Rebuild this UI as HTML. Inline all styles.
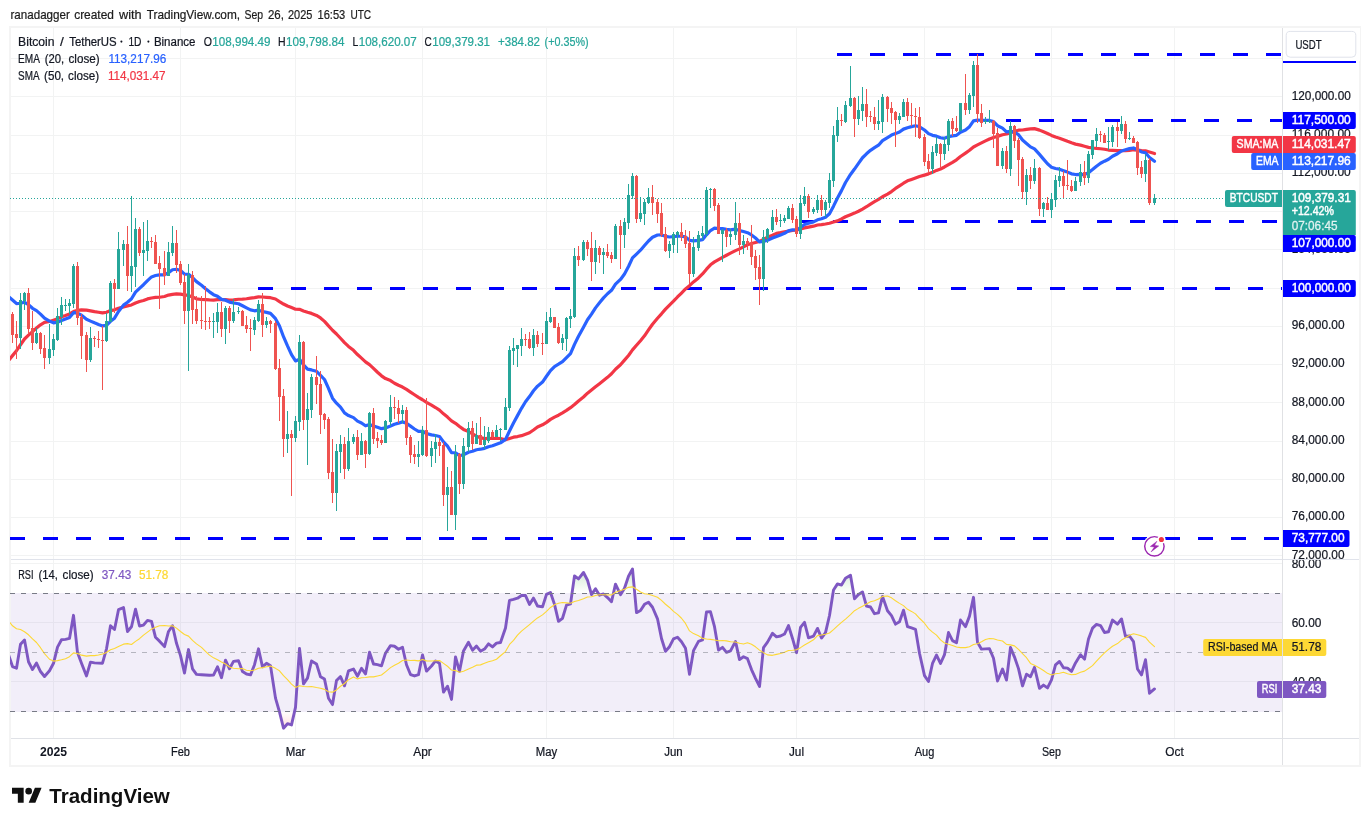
<!DOCTYPE html>
<html><head><meta charset="utf-8"><title>BTCUSDT chart</title>
<style>html,body{margin:0;padding:0;background:#fff;}body{width:1370px;height:826px;overflow:hidden;font-family:"Liberation Sans",sans-serif;}</style></head>
<body>
<svg width="1370" height="826" viewBox="0 0 1370 826" style="display:block;will-change:transform">
<rect width="1370" height="826" fill="#fff"/>
<clipPath id="cm"><rect x="10" y="28" width="1272" height="531"/></clipPath>
<clipPath id="cr"><rect x="10" y="560" width="1272" height="178"/></clipPath>
<g shape-rendering="crispEdges">
<rect x="53" y="28" width="1" height="531" fill="#f2f3f3"/>
<rect x="53" y="560" width="1" height="178" fill="#f2f3f3"/>
<rect x="180" y="28" width="1" height="531" fill="#f2f3f3"/>
<rect x="180" y="560" width="1" height="178" fill="#f2f3f3"/>
<rect x="295" y="28" width="1" height="531" fill="#f2f3f3"/>
<rect x="295" y="560" width="1" height="178" fill="#f2f3f3"/>
<rect x="422" y="28" width="1" height="531" fill="#f2f3f3"/>
<rect x="422" y="560" width="1" height="178" fill="#f2f3f3"/>
<rect x="546" y="28" width="1" height="531" fill="#f2f3f3"/>
<rect x="546" y="560" width="1" height="178" fill="#f2f3f3"/>
<rect x="673" y="28" width="1" height="531" fill="#f2f3f3"/>
<rect x="673" y="560" width="1" height="178" fill="#f2f3f3"/>
<rect x="796" y="28" width="1" height="531" fill="#f2f3f3"/>
<rect x="796" y="560" width="1" height="178" fill="#f2f3f3"/>
<rect x="924" y="28" width="1" height="531" fill="#f2f3f3"/>
<rect x="924" y="560" width="1" height="178" fill="#f2f3f3"/>
<rect x="1051" y="28" width="1" height="531" fill="#f2f3f3"/>
<rect x="1051" y="560" width="1" height="178" fill="#f2f3f3"/>
<rect x="1174" y="28" width="1" height="531" fill="#f2f3f3"/>
<rect x="1174" y="560" width="1" height="178" fill="#f2f3f3"/>
<rect x="11" y="555" width="1271" height="1" fill="#f2f3f3"/>
<rect x="11" y="517" width="1271" height="1" fill="#f2f3f3"/>
<rect x="11" y="479" width="1271" height="1" fill="#f2f3f3"/>
<rect x="11" y="441" width="1271" height="1" fill="#f2f3f3"/>
<rect x="11" y="402" width="1271" height="1" fill="#f2f3f3"/>
<rect x="11" y="364" width="1271" height="1" fill="#f2f3f3"/>
<rect x="11" y="326" width="1271" height="1" fill="#f2f3f3"/>
<rect x="11" y="288" width="1271" height="1" fill="#f2f3f3"/>
<rect x="11" y="249" width="1271" height="1" fill="#f2f3f3"/>
<rect x="11" y="211" width="1271" height="1" fill="#f2f3f3"/>
<rect x="11" y="173" width="1271" height="1" fill="#f2f3f3"/>
<rect x="11" y="135" width="1271" height="1" fill="#f2f3f3"/>
<rect x="11" y="96" width="1271" height="1" fill="#f2f3f3"/>
<rect x="11" y="58" width="1271" height="1" fill="#f2f3f3"/>
</g>
<g shape-rendering="crispEdges">
<rect x="11" y="563" width="1271" height="1" fill="#f2f3f3"/>
<rect x="11" y="622" width="1271" height="1" fill="#f2f3f3"/>
<rect x="11" y="681" width="1271" height="1" fill="#f2f3f3"/>
</g>
<rect x="11" y="593" width="1271" height="119" fill="#7e57c2" fill-opacity="0.1"/>
<g shape-rendering="crispEdges">
<rect x="9" y="26" width="1352" height="2" fill="#f4f4f4"/>
<rect x="9" y="765" width="1352" height="2" fill="#f4f4f4"/>
<rect x="9" y="26" width="2" height="741" fill="#f4f4f4"/>
<rect x="1359" y="26" width="2" height="741" fill="#f4f4f4"/>
<rect x="11" y="559" width="1348" height="1" fill="#e0e3eb"/>
<rect x="11" y="738" width="1348" height="1" fill="#e0e2e7"/>
<rect x="1282" y="28" width="1" height="737" fill="#e0e1e4"/>
</g>
<line x1="837" x2="1282" y1="54.5" y2="54.5" stroke="#0000ff" stroke-width="3" stroke-dasharray="15,18" shape-rendering="crispEdges" clip-path="url(#cm)"/>
<line x1="1006" x2="1282" y1="120.5" y2="120.5" stroke="#0000ff" stroke-width="3" stroke-dasharray="15,18" shape-rendering="crispEdges" clip-path="url(#cm)"/>
<line x1="800" x2="1282" y1="221.5" y2="221.5" stroke="#0000ff" stroke-width="3" stroke-dasharray="15,18" shape-rendering="crispEdges" clip-path="url(#cm)"/>
<line x1="258" x2="1282" y1="288.5" y2="288.5" stroke="#0000ff" stroke-width="3" stroke-dasharray="15,18" shape-rendering="crispEdges" clip-path="url(#cm)"/>
<line x1="10" x2="1282" y1="538.5" y2="538.5" stroke="#0000ff" stroke-width="3" stroke-dasharray="15,18" shape-rendering="crispEdges" clip-path="url(#cm)"/>
<g clip-path="url(#cm)">
<polyline points="8.5,360.56 12.5,355.63 16.5,350.64 20.5,344.74 24.5,339.00 28.5,335.13 32.5,331.60 36.5,328.01 40.5,324.75 44.5,322.37 49.5,321.43 53.5,320.16 57.5,318.90 61.5,316.83 65.5,315.45 69.5,313.96 73.5,311.60 77.5,310.36 81.5,309.83 86.5,310.16 90.5,310.85 94.5,311.67 98.5,312.27 102.5,312.91 106.5,312.23 110.5,310.60 114.5,309.81 118.5,308.20 123.5,306.84 127.5,305.90 131.5,304.93 135.5,302.96 139.5,301.46 143.5,300.44 147.5,298.93 151.5,297.97 155.5,297.43 159.5,297.25 164.5,296.47 168.5,295.11 172.5,294.42 176.5,293.96 180.5,294.11 184.5,294.82 188.5,295.42 192.5,297.00 196.5,298.82 201.5,299.52 205.5,299.70 209.5,299.96 213.5,300.12 217.5,299.69 221.5,299.52 225.5,299.67 229.5,300.21 233.5,299.89 238.5,299.26 242.5,299.11 246.5,298.72 250.5,298.16 254.5,297.58 258.5,296.87 262.5,297.02 266.5,297.33 270.5,297.71 275.5,299.01 279.5,301.60 283.5,304.03 287.5,306.01 291.5,307.58 295.5,309.23 299.5,309.30 303.5,310.89 307.5,312.28 311.5,313.41 316.5,315.43 320.5,317.96 324.5,321.37 328.5,325.92 332.5,330.27 336.5,333.97 340.5,338.26 344.5,342.58 348.5,346.39 353.5,350.32 357.5,354.56 361.5,358.11 365.5,361.82 369.5,364.59 373.5,368.32 377.5,372.26 381.5,375.82 385.5,378.60 390.5,380.55 394.5,383.22 398.5,385.29 402.5,387.08 406.5,389.40 410.5,392.05 414.5,394.74 418.5,397.40 422.5,399.75 426.5,402.28 431.5,405.08 435.5,407.52 439.5,410.19 443.5,413.85 447.5,417.09 451.5,420.81 455.5,423.30 459.5,426.56 463.5,429.41 468.5,431.49 472.5,433.94 476.5,436.17 480.5,437.68 484.5,438.57 488.5,438.44 492.5,438.48 496.5,438.34 500.5,438.51 505.5,439.80 509.5,438.42 513.5,437.20 517.5,436.55 521.5,435.65 525.5,434.15 529.5,432.72 533.5,429.99 537.5,426.99 542.5,424.84 546.5,422.39 550.5,419.38 554.5,417.11 558.5,415.21 562.5,412.88 566.5,410.43 570.5,407.69 574.5,404.55 578.5,400.97 583.5,397.01 587.5,393.13 591.5,389.94 595.5,386.76 599.5,383.68 603.5,380.46 607.5,377.35 611.5,373.78 615.5,369.23 620.5,364.79 624.5,360.15 628.5,355.47 632.5,349.89 636.5,345.28 640.5,340.71 644.5,335.84 648.5,329.92 652.5,324.22 657.5,318.21 661.5,313.82 665.5,309.16 669.5,305.11 673.5,301.21 677.5,296.99 681.5,293.01 685.5,288.99 689.5,285.65 693.5,281.95 698.5,277.92 702.5,273.97 706.5,269.17 710.5,264.82 714.5,261.92 718.5,259.63 722.5,257.31 726.5,255.25 730.5,253.16 735.5,250.66 739.5,248.84 743.5,246.81 747.5,244.80 751.5,243.50 755.5,242.50 759.5,241.52 763.5,239.41 767.5,237.24 772.5,235.23 776.5,233.33 780.5,232.61 784.5,231.78 788.5,231.10 792.5,230.53 796.5,229.97 800.5,229.07 804.5,227.90 808.5,227.10 813.5,226.19 817.5,225.03 821.5,224.68 825.5,224.04 829.5,223.21 833.5,221.99 837.5,220.87 841.5,218.94 845.5,216.78 850.5,214.70 854.5,213.11 858.5,211.26 862.5,209.08 866.5,206.72 870.5,204.07 874.5,201.65 878.5,199.41 882.5,196.71 887.5,194.15 891.5,191.54 895.5,188.46 899.5,185.86 903.5,183.21 907.5,180.85 911.5,179.38 915.5,177.93 919.5,176.57 924.5,175.11 928.5,173.88 932.5,172.19 936.5,170.39 940.5,168.98 944.5,166.99 948.5,164.58 952.5,162.28 956.5,159.77 960.5,156.48 965.5,153.09 969.5,150.26 973.5,146.97 977.5,144.88 981.5,142.89 985.5,140.91 989.5,138.98 993.5,137.47 997.5,136.38 1002.5,134.74 1006.5,134.04 1010.5,132.63 1014.5,131.21 1018.5,130.20 1022.5,130.02 1026.5,129.35 1030.5,128.91 1034.5,128.65 1039.5,130.11 1043.5,131.78 1047.5,133.53 1051.5,135.41 1055.5,137.06 1059.5,138.21 1063.5,139.73 1067.5,141.35 1071.5,142.83 1075.5,144.11 1080.5,145.11 1084.5,146.22 1088.5,147.37 1092.5,148.00 1096.5,148.44 1100.5,148.76 1104.5,149.27 1108.5,150.05 1112.5,150.29 1117.5,150.58 1121.5,150.72 1125.5,150.75 1129.5,150.29 1133.5,149.78 1137.5,150.08 1141.5,150.66 1145.5,150.82 1149.5,151.97 1154.5,153.51" fill="none" stroke="#f23645" stroke-width="3.2" stroke-linejoin="round" stroke-linecap="round" />
<polyline points="8.5,296.53 12.5,300.07 16.5,303.54 20.5,303.25 24.5,302.28 28.5,304.72 32.5,308.29 36.5,310.60 40.5,314.12 44.5,318.16 49.5,321.10 53.5,322.84 57.5,322.23 61.5,320.60 65.5,319.09 69.5,317.58 73.5,312.70 77.5,313.08 81.5,315.16 86.5,319.32 90.5,321.11 94.5,322.84 98.5,324.45 102.5,325.92 106.5,325.41 110.5,321.36 114.5,318.16 118.5,311.54 123.5,305.12 127.5,302.25 131.5,298.80 135.5,292.14 139.5,288.34 143.5,284.71 147.5,280.56 151.5,276.91 155.5,275.55 159.5,274.81 164.5,274.82 168.5,272.64 172.5,269.77 176.5,269.26 180.5,270.43 184.5,274.17 188.5,274.24 192.5,277.56 196.5,281.60 201.5,285.32 205.5,288.72 209.5,291.86 213.5,294.68 217.5,296.35 221.5,299.36 225.5,300.19 229.5,302.08 233.5,302.98 238.5,303.74 242.5,305.74 246.5,307.86 250.5,309.88 254.5,310.81 258.5,310.15 262.5,311.49 266.5,312.36 270.5,313.41 275.5,318.65 279.5,326.00 283.5,336.69 287.5,345.94 291.5,354.64 295.5,360.95 299.5,359.19 303.5,364.92 307.5,369.14 311.5,369.93 316.5,371.26 320.5,375.32 324.5,379.51 328.5,388.31 332.5,398.21 336.5,403.22 340.5,407.07 344.5,412.89 348.5,415.55 353.5,417.63 357.5,421.11 361.5,422.96 365.5,425.81 369.5,424.63 373.5,425.95 377.5,427.27 381.5,428.68 385.5,427.92 390.5,425.95 394.5,424.25 398.5,423.16 402.5,421.88 406.5,423.28 410.5,426.16 414.5,429.00 418.5,431.43 422.5,431.25 426.5,433.49 431.5,434.89 435.5,435.53 439.5,436.44 443.5,441.91 447.5,446.19 451.5,452.65 455.5,452.76 459.5,455.60 463.5,454.70 468.5,452.20 472.5,451.31 476.5,449.75 480.5,449.21 484.5,448.36 488.5,446.76 492.5,445.74 496.5,444.28 500.5,442.85 505.5,439.44 509.5,430.95 513.5,423.05 517.5,415.63 521.5,408.33 525.5,401.73 529.5,396.55 533.5,390.72 537.5,386.14 542.5,382.06 546.5,376.27 550.5,370.66 554.5,366.53 558.5,364.23 562.5,361.73 566.5,357.56 570.5,353.60 574.5,344.35 578.5,336.25 583.5,327.24 587.5,319.72 591.5,314.13 595.5,307.87 599.5,302.75 603.5,297.89 607.5,293.76 611.5,290.33 615.5,284.20 620.5,279.45 624.5,274.00 628.5,266.52 632.5,257.88 636.5,254.05 640.5,250.19 644.5,245.56 648.5,240.98 652.5,237.28 657.5,235.00 661.5,234.92 665.5,236.32 669.5,237.02 673.5,236.71 677.5,236.23 681.5,236.23 685.5,236.85 689.5,240.32 693.5,240.92 698.5,240.32 702.5,239.60 706.5,234.84 710.5,230.51 714.5,228.08 718.5,228.59 722.5,228.69 726.5,229.38 730.5,229.84 735.5,229.16 739.5,230.58 743.5,231.57 747.5,232.67 751.5,234.90 755.5,238.00 759.5,241.85 763.5,241.36 767.5,240.23 772.5,238.06 776.5,236.46 780.5,234.92 784.5,233.30 788.5,230.86 792.5,229.77 796.5,230.11 800.5,227.53 804.5,224.53 808.5,223.27 813.5,221.94 817.5,219.82 821.5,218.76 825.5,217.19 829.5,213.68 833.5,206.15 837.5,197.95 841.5,190.63 845.5,182.49 850.5,174.44 854.5,169.06 858.5,163.39 862.5,157.76 866.5,153.81 870.5,150.32 874.5,147.68 878.5,145.18 882.5,140.59 887.5,137.52 891.5,135.12 895.5,133.61 899.5,131.96 903.5,129.11 907.5,127.77 911.5,126.65 915.5,125.74 919.5,126.81 924.5,130.02 928.5,133.61 932.5,135.34 936.5,136.14 940.5,137.71 944.5,138.34 948.5,136.65 952.5,135.85 956.5,135.32 960.5,132.26 965.5,130.05 969.5,126.72 973.5,120.83 977.5,120.06 981.5,120.23 985.5,120.35 989.5,120.44 993.5,121.59 997.5,125.69 1002.5,128.12 1006.5,131.93 1010.5,131.34 1014.5,132.17 1018.5,134.69 1022.5,140.06 1026.5,143.40 1030.5,146.89 1034.5,148.85 1039.5,154.44 1043.5,159.10 1047.5,163.84 1051.5,167.22 1055.5,168.46 1059.5,169.15 1063.5,170.67 1067.5,172.10 1071.5,173.83 1075.5,174.53 1080.5,174.32 1084.5,174.60 1088.5,172.66 1092.5,169.51 1096.5,166.17 1100.5,163.25 1104.5,161.19 1108.5,159.26 1112.5,156.20 1117.5,153.75 1121.5,150.96 1125.5,149.74 1129.5,148.60 1133.5,147.97 1137.5,149.76 1141.5,151.96 1145.5,152.77 1149.5,157.43 1154.5,161.29" fill="none" stroke="#2962ff" stroke-width="3.2" stroke-linejoin="round" stroke-linecap="round" />
</g>
<g shape-rendering="crispEdges">
<rect x="12" y="312" width="1" height="31" fill="#ef5350"/>
<rect x="11" y="314" width="3" height="21" fill="#ef5350"/>
<rect x="16" y="321" width="1" height="38" fill="#ef5350"/>
<rect x="15" y="334" width="3" height="4" fill="#ef5350"/>
<rect x="20" y="293" width="1" height="56" fill="#26a69a"/>
<rect x="19" y="300" width="3" height="38" fill="#26a69a"/>
<rect x="24" y="292" width="1" height="18" fill="#26a69a"/>
<rect x="23" y="293" width="3" height="8" fill="#26a69a"/>
<rect x="28" y="288" width="1" height="46" fill="#ef5350"/>
<rect x="27" y="293" width="3" height="36" fill="#ef5350"/>
<rect x="32" y="311" width="1" height="39" fill="#ef5350"/>
<rect x="31" y="328" width="3" height="15" fill="#ef5350"/>
<rect x="36" y="328" width="1" height="16" fill="#26a69a"/>
<rect x="35" y="333" width="3" height="10" fill="#26a69a"/>
<rect x="40" y="332" width="1" height="22" fill="#ef5350"/>
<rect x="39" y="333" width="3" height="16" fill="#ef5350"/>
<rect x="44" y="335" width="1" height="34" fill="#ef5350"/>
<rect x="43" y="348" width="3" height="10" fill="#ef5350"/>
<rect x="49" y="324" width="1" height="40" fill="#26a69a"/>
<rect x="48" y="349" width="3" height="9" fill="#26a69a"/>
<rect x="53" y="334" width="1" height="22" fill="#26a69a"/>
<rect x="52" y="339" width="3" height="11" fill="#26a69a"/>
<rect x="57" y="308" width="1" height="33" fill="#26a69a"/>
<rect x="56" y="316" width="3" height="24" fill="#26a69a"/>
<rect x="61" y="297" width="1" height="28" fill="#26a69a"/>
<rect x="60" y="305" width="3" height="12" fill="#26a69a"/>
<rect x="65" y="299" width="1" height="12" fill="#26a69a"/>
<rect x="64" y="305" width="3" height="1" fill="#26a69a"/>
<rect x="69" y="299" width="1" height="15" fill="#26a69a"/>
<rect x="68" y="303" width="3" height="3" fill="#26a69a"/>
<rect x="73" y="264" width="1" height="44" fill="#26a69a"/>
<rect x="72" y="266" width="3" height="38" fill="#26a69a"/>
<rect x="77" y="262" width="1" height="63" fill="#ef5350"/>
<rect x="76" y="266" width="3" height="52" fill="#ef5350"/>
<rect x="81" y="314" width="1" height="45" fill="#ef5350"/>
<rect x="80" y="317" width="3" height="19" fill="#ef5350"/>
<rect x="86" y="332" width="1" height="40" fill="#ef5350"/>
<rect x="85" y="335" width="3" height="25" fill="#ef5350"/>
<rect x="90" y="327" width="1" height="35" fill="#26a69a"/>
<rect x="89" y="338" width="3" height="22" fill="#26a69a"/>
<rect x="94" y="336" width="1" height="11" fill="#ef5350"/>
<rect x="93" y="338" width="3" height="1" fill="#ef5350"/>
<rect x="98" y="331" width="1" height="17" fill="#ef5350"/>
<rect x="97" y="339" width="3" height="1" fill="#ef5350"/>
<rect x="102" y="326" width="1" height="64" fill="#ef5350"/>
<rect x="101" y="340" width="3" height="1" fill="#ef5350"/>
<rect x="106" y="313" width="1" height="29" fill="#26a69a"/>
<rect x="105" y="321" width="3" height="20" fill="#26a69a"/>
<rect x="110" y="281" width="1" height="40" fill="#26a69a"/>
<rect x="109" y="283" width="3" height="39" fill="#26a69a"/>
<rect x="114" y="279" width="1" height="34" fill="#ef5350"/>
<rect x="113" y="283" width="3" height="6" fill="#ef5350"/>
<rect x="118" y="232" width="1" height="56" fill="#26a69a"/>
<rect x="117" y="249" width="3" height="40" fill="#26a69a"/>
<rect x="123" y="240" width="1" height="26" fill="#26a69a"/>
<rect x="122" y="244" width="3" height="6" fill="#26a69a"/>
<rect x="127" y="226" width="1" height="65" fill="#ef5350"/>
<rect x="126" y="244" width="3" height="32" fill="#ef5350"/>
<rect x="131" y="196" width="1" height="96" fill="#26a69a"/>
<rect x="130" y="266" width="3" height="10" fill="#26a69a"/>
<rect x="135" y="218" width="1" height="69" fill="#26a69a"/>
<rect x="134" y="229" width="3" height="38" fill="#26a69a"/>
<rect x="139" y="227" width="1" height="29" fill="#ef5350"/>
<rect x="138" y="229" width="3" height="24" fill="#ef5350"/>
<rect x="143" y="222" width="1" height="54" fill="#26a69a"/>
<rect x="142" y="250" width="3" height="3" fill="#26a69a"/>
<rect x="147" y="220" width="1" height="41" fill="#26a69a"/>
<rect x="146" y="241" width="3" height="10" fill="#26a69a"/>
<rect x="151" y="237" width="1" height="11" fill="#ef5350"/>
<rect x="150" y="241" width="3" height="1" fill="#ef5350"/>
<rect x="155" y="235" width="1" height="29" fill="#ef5350"/>
<rect x="154" y="242" width="3" height="22" fill="#ef5350"/>
<rect x="159" y="256" width="1" height="53" fill="#ef5350"/>
<rect x="158" y="263" width="3" height="6" fill="#ef5350"/>
<rect x="164" y="251" width="1" height="34" fill="#ef5350"/>
<rect x="163" y="268" width="3" height="8" fill="#ef5350"/>
<rect x="168" y="242" width="1" height="33" fill="#26a69a"/>
<rect x="167" y="252" width="3" height="24" fill="#26a69a"/>
<rect x="172" y="226" width="1" height="30" fill="#26a69a"/>
<rect x="171" y="243" width="3" height="10" fill="#26a69a"/>
<rect x="176" y="230" width="1" height="43" fill="#ef5350"/>
<rect x="175" y="243" width="3" height="22" fill="#ef5350"/>
<rect x="180" y="261" width="1" height="24" fill="#ef5350"/>
<rect x="179" y="264" width="3" height="19" fill="#ef5350"/>
<rect x="184" y="274" width="1" height="50" fill="#ef5350"/>
<rect x="183" y="282" width="3" height="29" fill="#ef5350"/>
<rect x="188" y="264" width="1" height="107" fill="#26a69a"/>
<rect x="187" y="275" width="3" height="36" fill="#26a69a"/>
<rect x="192" y="271" width="1" height="53" fill="#ef5350"/>
<rect x="191" y="275" width="3" height="35" fill="#ef5350"/>
<rect x="196" y="296" width="1" height="28" fill="#ef5350"/>
<rect x="195" y="309" width="3" height="12" fill="#ef5350"/>
<rect x="201" y="296" width="1" height="33" fill="#ef5350"/>
<rect x="200" y="320" width="3" height="1" fill="#ef5350"/>
<rect x="205" y="286" width="1" height="44" fill="#ef5350"/>
<rect x="204" y="321" width="3" height="1" fill="#ef5350"/>
<rect x="209" y="317" width="1" height="12" fill="#ef5350"/>
<rect x="208" y="321" width="3" height="1" fill="#ef5350"/>
<rect x="213" y="313" width="1" height="25" fill="#26a69a"/>
<rect x="212" y="321" width="3" height="1" fill="#26a69a"/>
<rect x="217" y="303" width="1" height="30" fill="#26a69a"/>
<rect x="216" y="312" width="3" height="10" fill="#26a69a"/>
<rect x="221" y="302" width="1" height="35" fill="#ef5350"/>
<rect x="220" y="312" width="3" height="17" fill="#ef5350"/>
<rect x="225" y="306" width="1" height="38" fill="#26a69a"/>
<rect x="224" y="308" width="3" height="21" fill="#26a69a"/>
<rect x="229" y="306" width="1" height="27" fill="#ef5350"/>
<rect x="228" y="308" width="3" height="13" fill="#ef5350"/>
<rect x="233" y="299" width="1" height="24" fill="#26a69a"/>
<rect x="232" y="312" width="3" height="9" fill="#26a69a"/>
<rect x="238" y="307" width="1" height="7" fill="#26a69a"/>
<rect x="237" y="311" width="3" height="1" fill="#26a69a"/>
<rect x="242" y="310" width="1" height="15" fill="#ef5350"/>
<rect x="241" y="311" width="3" height="15" fill="#ef5350"/>
<rect x="246" y="316" width="1" height="17" fill="#ef5350"/>
<rect x="245" y="325" width="3" height="4" fill="#ef5350"/>
<rect x="250" y="319" width="1" height="32" fill="#ef5350"/>
<rect x="249" y="328" width="3" height="1" fill="#ef5350"/>
<rect x="254" y="317" width="1" height="18" fill="#26a69a"/>
<rect x="253" y="320" width="3" height="10" fill="#26a69a"/>
<rect x="258" y="300" width="1" height="22" fill="#26a69a"/>
<rect x="257" y="304" width="3" height="17" fill="#26a69a"/>
<rect x="262" y="293" width="1" height="44" fill="#ef5350"/>
<rect x="261" y="304" width="3" height="21" fill="#ef5350"/>
<rect x="266" y="317" width="1" height="11" fill="#26a69a"/>
<rect x="265" y="321" width="3" height="4" fill="#26a69a"/>
<rect x="270" y="320" width="1" height="13" fill="#ef5350"/>
<rect x="269" y="321" width="3" height="3" fill="#ef5350"/>
<rect x="275" y="321" width="1" height="49" fill="#ef5350"/>
<rect x="274" y="323" width="3" height="46" fill="#ef5350"/>
<rect x="279" y="359" width="1" height="62" fill="#ef5350"/>
<rect x="278" y="368" width="3" height="29" fill="#ef5350"/>
<rect x="283" y="389" width="1" height="68" fill="#ef5350"/>
<rect x="282" y="396" width="3" height="43" fill="#ef5350"/>
<rect x="287" y="411" width="1" height="42" fill="#26a69a"/>
<rect x="286" y="434" width="3" height="5" fill="#26a69a"/>
<rect x="291" y="430" width="1" height="66" fill="#ef5350"/>
<rect x="290" y="434" width="3" height="4" fill="#ef5350"/>
<rect x="295" y="416" width="1" height="26" fill="#26a69a"/>
<rect x="294" y="421" width="3" height="17" fill="#26a69a"/>
<rect x="299" y="335" width="1" height="96" fill="#26a69a"/>
<rect x="298" y="342" width="3" height="80" fill="#26a69a"/>
<rect x="303" y="341" width="1" height="89" fill="#ef5350"/>
<rect x="302" y="342" width="3" height="78" fill="#ef5350"/>
<rect x="307" y="393" width="1" height="72" fill="#26a69a"/>
<rect x="306" y="409" width="3" height="11" fill="#26a69a"/>
<rect x="311" y="374" width="1" height="44" fill="#26a69a"/>
<rect x="310" y="377" width="3" height="33" fill="#26a69a"/>
<rect x="316" y="356" width="1" height="48" fill="#ef5350"/>
<rect x="315" y="377" width="3" height="8" fill="#ef5350"/>
<rect x="320" y="371" width="1" height="63" fill="#ef5350"/>
<rect x="319" y="384" width="3" height="31" fill="#ef5350"/>
<rect x="324" y="413" width="1" height="16" fill="#ef5350"/>
<rect x="323" y="414" width="3" height="6" fill="#ef5350"/>
<rect x="328" y="417" width="1" height="62" fill="#ef5350"/>
<rect x="327" y="419" width="3" height="54" fill="#ef5350"/>
<rect x="332" y="439" width="1" height="64" fill="#ef5350"/>
<rect x="331" y="472" width="3" height="21" fill="#ef5350"/>
<rect x="336" y="444" width="1" height="67" fill="#26a69a"/>
<rect x="335" y="451" width="3" height="42" fill="#26a69a"/>
<rect x="340" y="435" width="1" height="38" fill="#26a69a"/>
<rect x="339" y="444" width="3" height="8" fill="#26a69a"/>
<rect x="344" y="437" width="1" height="42" fill="#ef5350"/>
<rect x="343" y="444" width="3" height="25" fill="#ef5350"/>
<rect x="348" y="428" width="1" height="43" fill="#26a69a"/>
<rect x="347" y="441" width="3" height="28" fill="#26a69a"/>
<rect x="353" y="434" width="1" height="10" fill="#26a69a"/>
<rect x="352" y="437" width="3" height="5" fill="#26a69a"/>
<rect x="357" y="430" width="1" height="30" fill="#ef5350"/>
<rect x="356" y="437" width="3" height="18" fill="#ef5350"/>
<rect x="361" y="433" width="1" height="22" fill="#26a69a"/>
<rect x="360" y="441" width="3" height="14" fill="#26a69a"/>
<rect x="365" y="440" width="1" height="28" fill="#ef5350"/>
<rect x="364" y="441" width="3" height="13" fill="#ef5350"/>
<rect x="369" y="412" width="1" height="43" fill="#26a69a"/>
<rect x="368" y="413" width="3" height="41" fill="#26a69a"/>
<rect x="373" y="408" width="1" height="36" fill="#ef5350"/>
<rect x="372" y="413" width="3" height="26" fill="#ef5350"/>
<rect x="377" y="432" width="1" height="16" fill="#ef5350"/>
<rect x="376" y="438" width="3" height="3" fill="#ef5350"/>
<rect x="381" y="435" width="1" height="10" fill="#ef5350"/>
<rect x="380" y="440" width="3" height="3" fill="#ef5350"/>
<rect x="385" y="420" width="1" height="22" fill="#26a69a"/>
<rect x="384" y="421" width="3" height="22" fill="#26a69a"/>
<rect x="390" y="395" width="1" height="31" fill="#26a69a"/>
<rect x="389" y="407" width="3" height="15" fill="#26a69a"/>
<rect x="394" y="397" width="1" height="22" fill="#ef5350"/>
<rect x="393" y="407" width="3" height="1" fill="#ef5350"/>
<rect x="398" y="400" width="1" height="23" fill="#ef5350"/>
<rect x="397" y="408" width="3" height="6" fill="#ef5350"/>
<rect x="402" y="405" width="1" height="18" fill="#26a69a"/>
<rect x="401" y="410" width="3" height="4" fill="#26a69a"/>
<rect x="406" y="407" width="1" height="38" fill="#ef5350"/>
<rect x="405" y="410" width="3" height="28" fill="#ef5350"/>
<rect x="410" y="435" width="1" height="28" fill="#ef5350"/>
<rect x="409" y="437" width="3" height="18" fill="#ef5350"/>
<rect x="414" y="445" width="1" height="19" fill="#ef5350"/>
<rect x="413" y="454" width="3" height="3" fill="#ef5350"/>
<rect x="418" y="441" width="1" height="26" fill="#26a69a"/>
<rect x="417" y="454" width="3" height="3" fill="#26a69a"/>
<rect x="422" y="426" width="1" height="30" fill="#26a69a"/>
<rect x="421" y="430" width="3" height="25" fill="#26a69a"/>
<rect x="426" y="398" width="1" height="59" fill="#ef5350"/>
<rect x="425" y="430" width="3" height="26" fill="#ef5350"/>
<rect x="431" y="441" width="1" height="26" fill="#26a69a"/>
<rect x="430" y="448" width="3" height="8" fill="#26a69a"/>
<rect x="435" y="434" width="1" height="29" fill="#26a69a"/>
<rect x="434" y="442" width="3" height="7" fill="#26a69a"/>
<rect x="439" y="438" width="1" height="18" fill="#ef5350"/>
<rect x="438" y="442" width="3" height="4" fill="#ef5350"/>
<rect x="443" y="442" width="1" height="64" fill="#ef5350"/>
<rect x="442" y="445" width="3" height="50" fill="#ef5350"/>
<rect x="447" y="467" width="1" height="64" fill="#26a69a"/>
<rect x="446" y="487" width="3" height="8" fill="#26a69a"/>
<rect x="451" y="471" width="1" height="44" fill="#ef5350"/>
<rect x="450" y="487" width="3" height="28" fill="#ef5350"/>
<rect x="455" y="445" width="1" height="85" fill="#26a69a"/>
<rect x="454" y="454" width="3" height="61" fill="#26a69a"/>
<rect x="459" y="453" width="1" height="41" fill="#ef5350"/>
<rect x="458" y="454" width="3" height="30" fill="#ef5350"/>
<rect x="463" y="438" width="1" height="51" fill="#26a69a"/>
<rect x="462" y="446" width="3" height="38" fill="#26a69a"/>
<rect x="468" y="422" width="1" height="30" fill="#26a69a"/>
<rect x="467" y="428" width="3" height="19" fill="#26a69a"/>
<rect x="472" y="421" width="1" height="29" fill="#ef5350"/>
<rect x="471" y="428" width="3" height="16" fill="#ef5350"/>
<rect x="476" y="423" width="1" height="21" fill="#26a69a"/>
<rect x="475" y="435" width="3" height="9" fill="#26a69a"/>
<rect x="480" y="417" width="1" height="27" fill="#ef5350"/>
<rect x="479" y="435" width="3" height="10" fill="#ef5350"/>
<rect x="484" y="426" width="1" height="23" fill="#26a69a"/>
<rect x="483" y="440" width="3" height="5" fill="#26a69a"/>
<rect x="488" y="427" width="1" height="16" fill="#26a69a"/>
<rect x="487" y="432" width="3" height="9" fill="#26a69a"/>
<rect x="492" y="430" width="1" height="8" fill="#ef5350"/>
<rect x="491" y="432" width="3" height="5" fill="#ef5350"/>
<rect x="496" y="425" width="1" height="12" fill="#26a69a"/>
<rect x="495" y="430" width="3" height="7" fill="#26a69a"/>
<rect x="500" y="428" width="1" height="13" fill="#26a69a"/>
<rect x="499" y="429" width="3" height="1" fill="#26a69a"/>
<rect x="505" y="398" width="1" height="32" fill="#26a69a"/>
<rect x="504" y="407" width="3" height="23" fill="#26a69a"/>
<rect x="509" y="346" width="1" height="65" fill="#26a69a"/>
<rect x="508" y="350" width="3" height="58" fill="#26a69a"/>
<rect x="513" y="338" width="1" height="27" fill="#26a69a"/>
<rect x="512" y="348" width="3" height="3" fill="#26a69a"/>
<rect x="517" y="345" width="1" height="22" fill="#26a69a"/>
<rect x="516" y="345" width="3" height="4" fill="#26a69a"/>
<rect x="521" y="328" width="1" height="28" fill="#26a69a"/>
<rect x="520" y="339" width="3" height="7" fill="#26a69a"/>
<rect x="525" y="334" width="1" height="12" fill="#ef5350"/>
<rect x="524" y="339" width="3" height="1" fill="#ef5350"/>
<rect x="529" y="332" width="1" height="17" fill="#ef5350"/>
<rect x="528" y="339" width="3" height="9" fill="#ef5350"/>
<rect x="533" y="329" width="1" height="27" fill="#26a69a"/>
<rect x="532" y="335" width="3" height="13" fill="#26a69a"/>
<rect x="537" y="331" width="1" height="16" fill="#ef5350"/>
<rect x="536" y="335" width="3" height="9" fill="#ef5350"/>
<rect x="542" y="333" width="1" height="22" fill="#ef5350"/>
<rect x="541" y="343" width="3" height="1" fill="#ef5350"/>
<rect x="546" y="312" width="1" height="32" fill="#26a69a"/>
<rect x="545" y="321" width="3" height="23" fill="#26a69a"/>
<rect x="550" y="308" width="1" height="15" fill="#26a69a"/>
<rect x="549" y="317" width="3" height="5" fill="#26a69a"/>
<rect x="554" y="317" width="1" height="11" fill="#ef5350"/>
<rect x="553" y="317" width="3" height="11" fill="#ef5350"/>
<rect x="558" y="323" width="1" height="21" fill="#ef5350"/>
<rect x="557" y="327" width="3" height="16" fill="#ef5350"/>
<rect x="562" y="334" width="1" height="16" fill="#26a69a"/>
<rect x="561" y="338" width="3" height="5" fill="#26a69a"/>
<rect x="566" y="317" width="1" height="34" fill="#26a69a"/>
<rect x="565" y="318" width="3" height="21" fill="#26a69a"/>
<rect x="570" y="309" width="1" height="19" fill="#26a69a"/>
<rect x="569" y="316" width="3" height="3" fill="#26a69a"/>
<rect x="574" y="248" width="1" height="70" fill="#26a69a"/>
<rect x="573" y="256" width="3" height="61" fill="#26a69a"/>
<rect x="578" y="246" width="1" height="20" fill="#ef5350"/>
<rect x="577" y="256" width="3" height="4" fill="#ef5350"/>
<rect x="583" y="240" width="1" height="21" fill="#26a69a"/>
<rect x="582" y="242" width="3" height="18" fill="#26a69a"/>
<rect x="587" y="240" width="1" height="16" fill="#ef5350"/>
<rect x="586" y="242" width="3" height="7" fill="#ef5350"/>
<rect x="591" y="232" width="1" height="49" fill="#ef5350"/>
<rect x="590" y="248" width="3" height="14" fill="#ef5350"/>
<rect x="595" y="240" width="1" height="34" fill="#26a69a"/>
<rect x="594" y="248" width="3" height="14" fill="#26a69a"/>
<rect x="599" y="246" width="1" height="17" fill="#ef5350"/>
<rect x="598" y="248" width="3" height="7" fill="#ef5350"/>
<rect x="603" y="248" width="1" height="26" fill="#26a69a"/>
<rect x="602" y="252" width="3" height="3" fill="#26a69a"/>
<rect x="607" y="244" width="1" height="14" fill="#ef5350"/>
<rect x="606" y="252" width="3" height="4" fill="#ef5350"/>
<rect x="611" y="252" width="1" height="11" fill="#ef5350"/>
<rect x="610" y="255" width="3" height="4" fill="#ef5350"/>
<rect x="615" y="224" width="1" height="34" fill="#26a69a"/>
<rect x="614" y="226" width="3" height="33" fill="#26a69a"/>
<rect x="620" y="220" width="1" height="49" fill="#ef5350"/>
<rect x="619" y="226" width="3" height="9" fill="#ef5350"/>
<rect x="624" y="218" width="1" height="30" fill="#26a69a"/>
<rect x="623" y="222" width="3" height="13" fill="#26a69a"/>
<rect x="628" y="184" width="1" height="45" fill="#26a69a"/>
<rect x="627" y="195" width="3" height="28" fill="#26a69a"/>
<rect x="632" y="173" width="1" height="26" fill="#26a69a"/>
<rect x="631" y="176" width="3" height="20" fill="#26a69a"/>
<rect x="636" y="175" width="1" height="48" fill="#ef5350"/>
<rect x="635" y="176" width="3" height="43" fill="#ef5350"/>
<rect x="640" y="197" width="1" height="25" fill="#26a69a"/>
<rect x="639" y="213" width="3" height="6" fill="#26a69a"/>
<rect x="644" y="199" width="1" height="26" fill="#26a69a"/>
<rect x="643" y="202" width="3" height="12" fill="#26a69a"/>
<rect x="648" y="188" width="1" height="16" fill="#26a69a"/>
<rect x="647" y="197" width="3" height="6" fill="#26a69a"/>
<rect x="652" y="185" width="1" height="30" fill="#ef5350"/>
<rect x="651" y="197" width="3" height="6" fill="#ef5350"/>
<rect x="657" y="199" width="1" height="24" fill="#ef5350"/>
<rect x="656" y="202" width="3" height="12" fill="#ef5350"/>
<rect x="661" y="203" width="1" height="34" fill="#ef5350"/>
<rect x="660" y="213" width="3" height="22" fill="#ef5350"/>
<rect x="665" y="227" width="1" height="25" fill="#ef5350"/>
<rect x="664" y="234" width="3" height="17" fill="#ef5350"/>
<rect x="669" y="241" width="1" height="17" fill="#26a69a"/>
<rect x="668" y="244" width="3" height="7" fill="#26a69a"/>
<rect x="673" y="232" width="1" height="21" fill="#26a69a"/>
<rect x="672" y="234" width="3" height="11" fill="#26a69a"/>
<rect x="677" y="231" width="1" height="22" fill="#26a69a"/>
<rect x="676" y="232" width="3" height="3" fill="#26a69a"/>
<rect x="681" y="223" width="1" height="18" fill="#ef5350"/>
<rect x="680" y="232" width="3" height="5" fill="#ef5350"/>
<rect x="685" y="230" width="1" height="18" fill="#ef5350"/>
<rect x="684" y="236" width="3" height="8" fill="#ef5350"/>
<rect x="689" y="231" width="1" height="53" fill="#ef5350"/>
<rect x="688" y="243" width="3" height="31" fill="#ef5350"/>
<rect x="693" y="237" width="1" height="40" fill="#26a69a"/>
<rect x="692" y="247" width="3" height="27" fill="#26a69a"/>
<rect x="698" y="231" width="1" height="20" fill="#26a69a"/>
<rect x="697" y="235" width="3" height="13" fill="#26a69a"/>
<rect x="702" y="226" width="1" height="14" fill="#26a69a"/>
<rect x="701" y="233" width="3" height="3" fill="#26a69a"/>
<rect x="706" y="187" width="1" height="50" fill="#26a69a"/>
<rect x="705" y="190" width="3" height="44" fill="#26a69a"/>
<rect x="710" y="188" width="1" height="20" fill="#26a69a"/>
<rect x="709" y="189" width="3" height="1" fill="#26a69a"/>
<rect x="714" y="188" width="1" height="23" fill="#ef5350"/>
<rect x="713" y="189" width="3" height="17" fill="#ef5350"/>
<rect x="718" y="203" width="1" height="30" fill="#ef5350"/>
<rect x="717" y="205" width="3" height="29" fill="#ef5350"/>
<rect x="722" y="229" width="1" height="33" fill="#26a69a"/>
<rect x="721" y="230" width="3" height="4" fill="#26a69a"/>
<rect x="726" y="228" width="1" height="19" fill="#ef5350"/>
<rect x="725" y="230" width="3" height="7" fill="#ef5350"/>
<rect x="730" y="229" width="1" height="16" fill="#26a69a"/>
<rect x="729" y="234" width="3" height="3" fill="#26a69a"/>
<rect x="735" y="202" width="1" height="38" fill="#26a69a"/>
<rect x="734" y="223" width="3" height="12" fill="#26a69a"/>
<rect x="739" y="213" width="1" height="42" fill="#ef5350"/>
<rect x="738" y="223" width="3" height="22" fill="#ef5350"/>
<rect x="743" y="235" width="1" height="19" fill="#26a69a"/>
<rect x="742" y="241" width="3" height="4" fill="#26a69a"/>
<rect x="747" y="238" width="1" height="12" fill="#ef5350"/>
<rect x="746" y="241" width="3" height="3" fill="#ef5350"/>
<rect x="751" y="225" width="1" height="40" fill="#ef5350"/>
<rect x="750" y="243" width="3" height="14" fill="#ef5350"/>
<rect x="755" y="250" width="1" height="30" fill="#ef5350"/>
<rect x="754" y="256" width="3" height="12" fill="#ef5350"/>
<rect x="759" y="255" width="1" height="50" fill="#ef5350"/>
<rect x="758" y="267" width="3" height="12" fill="#ef5350"/>
<rect x="763" y="230" width="1" height="61" fill="#26a69a"/>
<rect x="762" y="237" width="3" height="42" fill="#26a69a"/>
<rect x="767" y="228" width="1" height="15" fill="#26a69a"/>
<rect x="766" y="229" width="3" height="9" fill="#26a69a"/>
<rect x="772" y="210" width="1" height="22" fill="#26a69a"/>
<rect x="771" y="217" width="3" height="13" fill="#26a69a"/>
<rect x="776" y="209" width="1" height="16" fill="#ef5350"/>
<rect x="775" y="217" width="3" height="5" fill="#ef5350"/>
<rect x="780" y="214" width="1" height="13" fill="#26a69a"/>
<rect x="779" y="220" width="3" height="1" fill="#26a69a"/>
<rect x="784" y="215" width="1" height="8" fill="#26a69a"/>
<rect x="783" y="218" width="3" height="3" fill="#26a69a"/>
<rect x="788" y="206" width="1" height="13" fill="#26a69a"/>
<rect x="787" y="208" width="3" height="11" fill="#26a69a"/>
<rect x="792" y="204" width="1" height="19" fill="#ef5350"/>
<rect x="791" y="208" width="3" height="12" fill="#ef5350"/>
<rect x="796" y="216" width="1" height="21" fill="#ef5350"/>
<rect x="795" y="219" width="3" height="15" fill="#ef5350"/>
<rect x="800" y="195" width="1" height="44" fill="#26a69a"/>
<rect x="799" y="203" width="3" height="31" fill="#26a69a"/>
<rect x="804" y="187" width="1" height="19" fill="#26a69a"/>
<rect x="803" y="196" width="3" height="8" fill="#26a69a"/>
<rect x="808" y="194" width="1" height="24" fill="#ef5350"/>
<rect x="807" y="196" width="3" height="16" fill="#ef5350"/>
<rect x="813" y="207" width="1" height="7" fill="#26a69a"/>
<rect x="812" y="209" width="3" height="3" fill="#26a69a"/>
<rect x="817" y="195" width="1" height="18" fill="#26a69a"/>
<rect x="816" y="200" width="3" height="10" fill="#26a69a"/>
<rect x="821" y="195" width="1" height="21" fill="#ef5350"/>
<rect x="820" y="200" width="3" height="10" fill="#ef5350"/>
<rect x="825" y="200" width="1" height="17" fill="#26a69a"/>
<rect x="824" y="202" width="3" height="8" fill="#26a69a"/>
<rect x="829" y="173" width="1" height="35" fill="#26a69a"/>
<rect x="828" y="180" width="3" height="23" fill="#26a69a"/>
<rect x="833" y="126" width="1" height="61" fill="#26a69a"/>
<rect x="832" y="135" width="3" height="46" fill="#26a69a"/>
<rect x="837" y="107" width="1" height="35" fill="#26a69a"/>
<rect x="836" y="120" width="3" height="16" fill="#26a69a"/>
<rect x="841" y="114" width="1" height="12" fill="#ef5350"/>
<rect x="840" y="120" width="3" height="1" fill="#ef5350"/>
<rect x="845" y="101" width="1" height="22" fill="#26a69a"/>
<rect x="844" y="105" width="3" height="17" fill="#26a69a"/>
<rect x="850" y="66" width="1" height="41" fill="#26a69a"/>
<rect x="849" y="98" width="3" height="8" fill="#26a69a"/>
<rect x="854" y="97" width="1" height="40" fill="#ef5350"/>
<rect x="853" y="98" width="3" height="21" fill="#ef5350"/>
<rect x="858" y="96" width="1" height="29" fill="#26a69a"/>
<rect x="857" y="110" width="3" height="9" fill="#26a69a"/>
<rect x="862" y="87" width="1" height="34" fill="#26a69a"/>
<rect x="861" y="104" width="3" height="7" fill="#26a69a"/>
<rect x="866" y="89" width="1" height="38" fill="#ef5350"/>
<rect x="865" y="104" width="3" height="13" fill="#ef5350"/>
<rect x="870" y="111" width="1" height="11" fill="#ef5350"/>
<rect x="869" y="116" width="3" height="1" fill="#ef5350"/>
<rect x="874" y="107" width="1" height="23" fill="#ef5350"/>
<rect x="873" y="117" width="3" height="7" fill="#ef5350"/>
<rect x="878" y="100" width="1" height="30" fill="#26a69a"/>
<rect x="877" y="121" width="3" height="3" fill="#26a69a"/>
<rect x="882" y="94" width="1" height="39" fill="#26a69a"/>
<rect x="881" y="97" width="3" height="25" fill="#26a69a"/>
<rect x="887" y="96" width="1" height="26" fill="#ef5350"/>
<rect x="886" y="97" width="3" height="12" fill="#ef5350"/>
<rect x="891" y="102" width="1" height="22" fill="#ef5350"/>
<rect x="890" y="108" width="3" height="5" fill="#ef5350"/>
<rect x="895" y="111" width="1" height="36" fill="#ef5350"/>
<rect x="894" y="112" width="3" height="8" fill="#ef5350"/>
<rect x="899" y="113" width="1" height="11" fill="#26a69a"/>
<rect x="898" y="116" width="3" height="4" fill="#26a69a"/>
<rect x="903" y="99" width="1" height="18" fill="#26a69a"/>
<rect x="902" y="102" width="3" height="15" fill="#26a69a"/>
<rect x="907" y="98" width="1" height="23" fill="#ef5350"/>
<rect x="906" y="102" width="3" height="14" fill="#ef5350"/>
<rect x="911" y="103" width="1" height="23" fill="#ef5350"/>
<rect x="910" y="115" width="3" height="1" fill="#ef5350"/>
<rect x="915" y="108" width="1" height="29" fill="#ef5350"/>
<rect x="914" y="116" width="3" height="1" fill="#ef5350"/>
<rect x="919" y="107" width="1" height="32" fill="#ef5350"/>
<rect x="918" y="117" width="3" height="21" fill="#ef5350"/>
<rect x="924" y="134" width="1" height="32" fill="#ef5350"/>
<rect x="923" y="137" width="3" height="25" fill="#ef5350"/>
<rect x="928" y="154" width="1" height="19" fill="#ef5350"/>
<rect x="927" y="161" width="3" height="8" fill="#ef5350"/>
<rect x="932" y="146" width="1" height="28" fill="#26a69a"/>
<rect x="931" y="152" width="3" height="17" fill="#26a69a"/>
<rect x="936" y="137" width="1" height="19" fill="#26a69a"/>
<rect x="935" y="144" width="3" height="9" fill="#26a69a"/>
<rect x="940" y="143" width="1" height="24" fill="#ef5350"/>
<rect x="939" y="144" width="3" height="10" fill="#ef5350"/>
<rect x="944" y="137" width="1" height="23" fill="#26a69a"/>
<rect x="943" y="144" width="3" height="10" fill="#26a69a"/>
<rect x="948" y="119" width="1" height="32" fill="#26a69a"/>
<rect x="947" y="121" width="3" height="24" fill="#26a69a"/>
<rect x="952" y="118" width="1" height="18" fill="#ef5350"/>
<rect x="951" y="121" width="3" height="8" fill="#ef5350"/>
<rect x="956" y="116" width="1" height="16" fill="#ef5350"/>
<rect x="955" y="128" width="3" height="3" fill="#ef5350"/>
<rect x="960" y="103" width="1" height="27" fill="#26a69a"/>
<rect x="959" y="103" width="3" height="28" fill="#26a69a"/>
<rect x="965" y="74" width="1" height="41" fill="#ef5350"/>
<rect x="964" y="103" width="3" height="7" fill="#ef5350"/>
<rect x="969" y="93" width="1" height="21" fill="#26a69a"/>
<rect x="968" y="95" width="3" height="15" fill="#26a69a"/>
<rect x="973" y="61" width="1" height="46" fill="#26a69a"/>
<rect x="972" y="65" width="3" height="31" fill="#26a69a"/>
<rect x="977" y="54" width="1" height="69" fill="#ef5350"/>
<rect x="976" y="65" width="3" height="49" fill="#ef5350"/>
<rect x="981" y="104" width="1" height="23" fill="#ef5350"/>
<rect x="980" y="113" width="3" height="10" fill="#ef5350"/>
<rect x="985" y="117" width="1" height="7" fill="#26a69a"/>
<rect x="984" y="121" width="3" height="1" fill="#26a69a"/>
<rect x="989" y="110" width="1" height="13" fill="#26a69a"/>
<rect x="988" y="121" width="3" height="1" fill="#26a69a"/>
<rect x="993" y="120" width="1" height="28" fill="#ef5350"/>
<rect x="992" y="121" width="3" height="13" fill="#ef5350"/>
<rect x="997" y="128" width="1" height="38" fill="#ef5350"/>
<rect x="996" y="133" width="3" height="33" fill="#ef5350"/>
<rect x="1002" y="148" width="1" height="21" fill="#26a69a"/>
<rect x="1001" y="151" width="3" height="15" fill="#26a69a"/>
<rect x="1006" y="146" width="1" height="27" fill="#ef5350"/>
<rect x="1005" y="151" width="3" height="18" fill="#ef5350"/>
<rect x="1010" y="121" width="1" height="55" fill="#26a69a"/>
<rect x="1009" y="126" width="3" height="43" fill="#26a69a"/>
<rect x="1014" y="125" width="1" height="23" fill="#ef5350"/>
<rect x="1013" y="126" width="3" height="15" fill="#ef5350"/>
<rect x="1018" y="138" width="1" height="48" fill="#ef5350"/>
<rect x="1017" y="140" width="3" height="20" fill="#ef5350"/>
<rect x="1022" y="157" width="1" height="42" fill="#ef5350"/>
<rect x="1021" y="159" width="3" height="33" fill="#ef5350"/>
<rect x="1026" y="169" width="1" height="36" fill="#26a69a"/>
<rect x="1025" y="175" width="3" height="17" fill="#26a69a"/>
<rect x="1030" y="167" width="1" height="22" fill="#ef5350"/>
<rect x="1029" y="175" width="3" height="6" fill="#ef5350"/>
<rect x="1034" y="159" width="1" height="25" fill="#26a69a"/>
<rect x="1033" y="168" width="3" height="13" fill="#26a69a"/>
<rect x="1039" y="167" width="1" height="49" fill="#ef5350"/>
<rect x="1038" y="168" width="3" height="41" fill="#ef5350"/>
<rect x="1043" y="202" width="1" height="15" fill="#26a69a"/>
<rect x="1042" y="203" width="3" height="6" fill="#26a69a"/>
<rect x="1047" y="197" width="1" height="13" fill="#ef5350"/>
<rect x="1046" y="203" width="3" height="7" fill="#ef5350"/>
<rect x="1051" y="193" width="1" height="25" fill="#26a69a"/>
<rect x="1050" y="199" width="3" height="11" fill="#26a69a"/>
<rect x="1055" y="175" width="1" height="32" fill="#26a69a"/>
<rect x="1054" y="180" width="3" height="20" fill="#26a69a"/>
<rect x="1059" y="167" width="1" height="20" fill="#26a69a"/>
<rect x="1058" y="176" width="3" height="5" fill="#26a69a"/>
<rect x="1063" y="171" width="1" height="27" fill="#ef5350"/>
<rect x="1062" y="176" width="3" height="10" fill="#ef5350"/>
<rect x="1067" y="160" width="1" height="30" fill="#ef5350"/>
<rect x="1066" y="185" width="3" height="1" fill="#ef5350"/>
<rect x="1071" y="180" width="1" height="12" fill="#ef5350"/>
<rect x="1070" y="186" width="3" height="5" fill="#ef5350"/>
<rect x="1075" y="177" width="1" height="13" fill="#26a69a"/>
<rect x="1074" y="181" width="3" height="10" fill="#26a69a"/>
<rect x="1080" y="164" width="1" height="22" fill="#26a69a"/>
<rect x="1079" y="172" width="3" height="10" fill="#26a69a"/>
<rect x="1084" y="161" width="1" height="24" fill="#ef5350"/>
<rect x="1083" y="172" width="3" height="6" fill="#ef5350"/>
<rect x="1088" y="151" width="1" height="32" fill="#26a69a"/>
<rect x="1087" y="154" width="3" height="24" fill="#26a69a"/>
<rect x="1092" y="140" width="1" height="19" fill="#26a69a"/>
<rect x="1091" y="140" width="3" height="15" fill="#26a69a"/>
<rect x="1096" y="128" width="1" height="19" fill="#26a69a"/>
<rect x="1095" y="134" width="3" height="7" fill="#26a69a"/>
<rect x="1100" y="131" width="1" height="11" fill="#ef5350"/>
<rect x="1099" y="134" width="3" height="1" fill="#ef5350"/>
<rect x="1104" y="133" width="1" height="10" fill="#ef5350"/>
<rect x="1103" y="135" width="3" height="8" fill="#ef5350"/>
<rect x="1108" y="127" width="1" height="23" fill="#26a69a"/>
<rect x="1107" y="141" width="3" height="1" fill="#26a69a"/>
<rect x="1112" y="125" width="1" height="22" fill="#26a69a"/>
<rect x="1111" y="127" width="3" height="15" fill="#26a69a"/>
<rect x="1117" y="122" width="1" height="25" fill="#ef5350"/>
<rect x="1116" y="127" width="3" height="4" fill="#ef5350"/>
<rect x="1121" y="116" width="1" height="18" fill="#26a69a"/>
<rect x="1120" y="124" width="3" height="7" fill="#26a69a"/>
<rect x="1125" y="121" width="1" height="22" fill="#ef5350"/>
<rect x="1124" y="124" width="3" height="15" fill="#ef5350"/>
<rect x="1129" y="132" width="1" height="8" fill="#26a69a"/>
<rect x="1128" y="138" width="3" height="1" fill="#26a69a"/>
<rect x="1133" y="136" width="1" height="6" fill="#ef5350"/>
<rect x="1132" y="138" width="3" height="5" fill="#ef5350"/>
<rect x="1137" y="141" width="1" height="34" fill="#ef5350"/>
<rect x="1136" y="142" width="3" height="26" fill="#ef5350"/>
<rect x="1141" y="161" width="1" height="17" fill="#ef5350"/>
<rect x="1140" y="167" width="3" height="7" fill="#ef5350"/>
<rect x="1145" y="154" width="1" height="28" fill="#26a69a"/>
<rect x="1144" y="160" width="3" height="14" fill="#26a69a"/>
<rect x="1149" y="158" width="1" height="47" fill="#ef5350"/>
<rect x="1148" y="160" width="3" height="43" fill="#ef5350"/>
<rect x="1154" y="194" width="1" height="11" fill="#26a69a"/>
<rect x="1153" y="198" width="3" height="5" fill="#26a69a"/>
</g>
<line x1="10" x2="1282" y1="198.5" y2="198.5" stroke="#26a69a" stroke-width="1" stroke-dasharray="1,2" shape-rendering="crispEdges" clip-path="url(#cm)"/>
<defs><linearGradient id="gob" gradientUnits="userSpaceOnUse" x1="0" x2="0" y1="504.4" y2="592.9"><stop offset="0" stop-color="#4caf50" stop-opacity="1"/><stop offset="1" stop-color="#4caf50" stop-opacity="0"/></linearGradient>
<linearGradient id="gos" gradientUnits="userSpaceOnUse" x1="0" x2="0" y1="710.9" y2="799.4"><stop offset="0" stop-color="#ff5252" stop-opacity="0"/><stop offset="1" stop-color="#ff5252" stop-opacity="1"/></linearGradient>
<clipPath id="cob"><rect x="11" y="560" width="1271" height="33.4"/></clipPath>
<clipPath id="cos"><rect x="11" y="711.4" width="1271" height="26.6"/></clipPath></defs>
<polygon points="8.5,593.4 8.5,654.53 12.5,666.58 16.5,668.28 20.5,644.35 24.5,640.03 28.5,661.76 32.5,669.58 36.5,663.06 40.5,671.53 44.5,676.51 49.5,670.73 53.5,663.29 57.5,647.09 61.5,639.70 65.5,639.40 69.5,638.44 73.5,615.31 77.5,652.53 81.5,663.17 86.5,675.93 90.5,662.14 94.5,662.83 98.5,663.14 102.5,663.20 106.5,648.78 110.5,625.71 114.5,629.49 118.5,609.67 123.5,607.60 127.5,631.47 131.5,626.75 135.5,609.21 139.5,626.01 143.5,625.05 147.5,620.40 151.5,621.36 155.5,637.29 159.5,641.16 164.5,646.60 168.5,631.49 172.5,625.76 176.5,643.32 180.5,655.58 184.5,673.06 188.5,649.57 192.5,668.81 196.5,674.40 201.5,674.69 205.5,674.94 209.5,675.30 213.5,675.15 217.5,666.76 221.5,677.74 225.5,660.16 229.5,668.77 233.5,661.38 238.5,660.79 242.5,671.59 246.5,674.04 250.5,674.87 254.5,664.68 258.5,648.81 262.5,666.88 266.5,663.30 270.5,665.81 275.5,698.10 279.5,711.99 283.5,728.20 287.5,723.67 291.5,724.94 295.5,707.41 299.5,648.40 303.5,683.87 307.5,678.08 311.5,661.02 316.5,663.93 320.5,676.80 324.5,679.08 328.5,698.26 332.5,704.60 336.5,680.49 340.5,676.64 344.5,685.81 348.5,670.83 353.5,669.02 357.5,676.20 361.5,668.29 365.5,673.90 369.5,652.18 373.5,664.04 377.5,664.64 381.5,665.81 385.5,653.18 390.5,645.66 394.5,646.28 398.5,649.27 402.5,647.27 406.5,664.75 410.5,674.52 414.5,675.93 418.5,674.64 422.5,654.97 426.5,671.14 431.5,666.00 435.5,660.96 439.5,663.34 443.5,692.15 447.5,686.20 451.5,699.42 455.5,656.92 459.5,671.29 463.5,651.08 468.5,642.34 472.5,650.17 476.5,646.01 480.5,651.21 484.5,649.05 488.5,643.82 492.5,646.89 496.5,643.14 500.5,642.47 505.5,627.93 509.5,600.34 513.5,599.38 517.5,598.20 521.5,595.44 525.5,595.54 529.5,604.42 533.5,598.11 537.5,605.97 542.5,606.87 546.5,594.42 550.5,592.44 554.5,604.40 558.5,621.37 562.5,618.29 566.5,605.12 570.5,603.96 574.5,575.86 578.5,578.98 583.5,572.50 587.5,580.21 591.5,594.61 595.5,588.71 599.5,595.24 603.5,593.96 607.5,597.56 611.5,601.75 615.5,584.14 620.5,594.70 624.5,588.28 628.5,576.25 632.5,568.92 636.5,612.65 640.5,610.46 644.5,604.34 648.5,602.24 652.5,607.26 657.5,618.81 661.5,638.54 665.5,651.30 669.5,646.71 673.5,638.86 677.5,637.25 681.5,641.80 685.5,648.27 689.5,674.21 693.5,650.64 698.5,641.33 702.5,639.99 706.5,611.85 710.5,611.80 714.5,626.74 718.5,650.11 722.5,647.34 726.5,652.31 730.5,650.89 735.5,641.42 739.5,659.60 743.5,656.78 747.5,658.65 751.5,669.62 755.5,678.40 759.5,686.48 763.5,647.57 767.5,642.13 772.5,633.29 776.5,636.80 780.5,636.04 784.5,634.04 788.5,625.58 792.5,638.48 796.5,652.68 800.5,627.40 804.5,622.38 808.5,637.85 813.5,636.19 817.5,628.40 821.5,638.02 825.5,632.57 829.5,615.49 833.5,590.07 837.5,583.85 841.5,585.03 845.5,578.24 850.5,575.33 854.5,598.85 858.5,594.58 862.5,591.91 866.5,606.04 870.5,606.98 874.5,613.68 878.5,612.87 882.5,596.37 887.5,610.76 891.5,615.62 895.5,624.12 899.5,621.66 903.5,610.21 907.5,626.65 911.5,627.97 915.5,629.36 919.5,653.30 924.5,675.61 928.5,681.51 932.5,663.44 936.5,655.01 940.5,663.49 944.5,654.63 948.5,632.55 952.5,640.63 956.5,642.81 960.5,620.05 965.5,626.62 969.5,616.12 973.5,597.30 977.5,642.32 981.5,649.17 985.5,648.90 989.5,648.71 993.5,658.19 997.5,681.03 1002.5,669.07 1006.5,680.09 1010.5,647.47 1014.5,657.08 1018.5,668.64 1022.5,685.91 1026.5,674.12 1030.5,676.72 1034.5,667.24 1039.5,688.38 1043.5,685.11 1047.5,687.88 1051.5,679.93 1055.5,664.80 1059.5,661.42 1063.5,667.69 1067.5,668.16 1071.5,671.41 1075.5,662.89 1080.5,654.82 1084.5,659.12 1088.5,639.05 1092.5,628.14 1096.5,624.38 1100.5,625.54 1104.5,632.48 1108.5,631.80 1112.5,620.01 1117.5,624.15 1121.5,618.92 1125.5,636.54 1129.5,636.03 1133.5,641.62 1137.5,669.02 1141.5,674.90 1145.5,659.75 1149.5,693.22 1154.5,688.97 1154.5,593.4" fill="url(#gob)" clip-path="url(#cob)"/>
<polygon points="8.5,711.4 8.5,654.53 12.5,666.58 16.5,668.28 20.5,644.35 24.5,640.03 28.5,661.76 32.5,669.58 36.5,663.06 40.5,671.53 44.5,676.51 49.5,670.73 53.5,663.29 57.5,647.09 61.5,639.70 65.5,639.40 69.5,638.44 73.5,615.31 77.5,652.53 81.5,663.17 86.5,675.93 90.5,662.14 94.5,662.83 98.5,663.14 102.5,663.20 106.5,648.78 110.5,625.71 114.5,629.49 118.5,609.67 123.5,607.60 127.5,631.47 131.5,626.75 135.5,609.21 139.5,626.01 143.5,625.05 147.5,620.40 151.5,621.36 155.5,637.29 159.5,641.16 164.5,646.60 168.5,631.49 172.5,625.76 176.5,643.32 180.5,655.58 184.5,673.06 188.5,649.57 192.5,668.81 196.5,674.40 201.5,674.69 205.5,674.94 209.5,675.30 213.5,675.15 217.5,666.76 221.5,677.74 225.5,660.16 229.5,668.77 233.5,661.38 238.5,660.79 242.5,671.59 246.5,674.04 250.5,674.87 254.5,664.68 258.5,648.81 262.5,666.88 266.5,663.30 270.5,665.81 275.5,698.10 279.5,711.99 283.5,728.20 287.5,723.67 291.5,724.94 295.5,707.41 299.5,648.40 303.5,683.87 307.5,678.08 311.5,661.02 316.5,663.93 320.5,676.80 324.5,679.08 328.5,698.26 332.5,704.60 336.5,680.49 340.5,676.64 344.5,685.81 348.5,670.83 353.5,669.02 357.5,676.20 361.5,668.29 365.5,673.90 369.5,652.18 373.5,664.04 377.5,664.64 381.5,665.81 385.5,653.18 390.5,645.66 394.5,646.28 398.5,649.27 402.5,647.27 406.5,664.75 410.5,674.52 414.5,675.93 418.5,674.64 422.5,654.97 426.5,671.14 431.5,666.00 435.5,660.96 439.5,663.34 443.5,692.15 447.5,686.20 451.5,699.42 455.5,656.92 459.5,671.29 463.5,651.08 468.5,642.34 472.5,650.17 476.5,646.01 480.5,651.21 484.5,649.05 488.5,643.82 492.5,646.89 496.5,643.14 500.5,642.47 505.5,627.93 509.5,600.34 513.5,599.38 517.5,598.20 521.5,595.44 525.5,595.54 529.5,604.42 533.5,598.11 537.5,605.97 542.5,606.87 546.5,594.42 550.5,592.44 554.5,604.40 558.5,621.37 562.5,618.29 566.5,605.12 570.5,603.96 574.5,575.86 578.5,578.98 583.5,572.50 587.5,580.21 591.5,594.61 595.5,588.71 599.5,595.24 603.5,593.96 607.5,597.56 611.5,601.75 615.5,584.14 620.5,594.70 624.5,588.28 628.5,576.25 632.5,568.92 636.5,612.65 640.5,610.46 644.5,604.34 648.5,602.24 652.5,607.26 657.5,618.81 661.5,638.54 665.5,651.30 669.5,646.71 673.5,638.86 677.5,637.25 681.5,641.80 685.5,648.27 689.5,674.21 693.5,650.64 698.5,641.33 702.5,639.99 706.5,611.85 710.5,611.80 714.5,626.74 718.5,650.11 722.5,647.34 726.5,652.31 730.5,650.89 735.5,641.42 739.5,659.60 743.5,656.78 747.5,658.65 751.5,669.62 755.5,678.40 759.5,686.48 763.5,647.57 767.5,642.13 772.5,633.29 776.5,636.80 780.5,636.04 784.5,634.04 788.5,625.58 792.5,638.48 796.5,652.68 800.5,627.40 804.5,622.38 808.5,637.85 813.5,636.19 817.5,628.40 821.5,638.02 825.5,632.57 829.5,615.49 833.5,590.07 837.5,583.85 841.5,585.03 845.5,578.24 850.5,575.33 854.5,598.85 858.5,594.58 862.5,591.91 866.5,606.04 870.5,606.98 874.5,613.68 878.5,612.87 882.5,596.37 887.5,610.76 891.5,615.62 895.5,624.12 899.5,621.66 903.5,610.21 907.5,626.65 911.5,627.97 915.5,629.36 919.5,653.30 924.5,675.61 928.5,681.51 932.5,663.44 936.5,655.01 940.5,663.49 944.5,654.63 948.5,632.55 952.5,640.63 956.5,642.81 960.5,620.05 965.5,626.62 969.5,616.12 973.5,597.30 977.5,642.32 981.5,649.17 985.5,648.90 989.5,648.71 993.5,658.19 997.5,681.03 1002.5,669.07 1006.5,680.09 1010.5,647.47 1014.5,657.08 1018.5,668.64 1022.5,685.91 1026.5,674.12 1030.5,676.72 1034.5,667.24 1039.5,688.38 1043.5,685.11 1047.5,687.88 1051.5,679.93 1055.5,664.80 1059.5,661.42 1063.5,667.69 1067.5,668.16 1071.5,671.41 1075.5,662.89 1080.5,654.82 1084.5,659.12 1088.5,639.05 1092.5,628.14 1096.5,624.38 1100.5,625.54 1104.5,632.48 1108.5,631.80 1112.5,620.01 1117.5,624.15 1121.5,618.92 1125.5,636.54 1129.5,636.03 1133.5,641.62 1137.5,669.02 1141.5,674.90 1145.5,659.75 1149.5,693.22 1154.5,688.97 1154.5,711.4" fill="url(#gos)" clip-path="url(#cos)"/>
<g clip-path="url(#cr)">
<polyline points="8.5,654.53 12.5,666.58 16.5,668.28 20.5,644.35 24.5,640.03 28.5,661.76 32.5,669.58 36.5,663.06 40.5,671.53 44.5,676.51 49.5,670.73 53.5,663.29 57.5,647.09 61.5,639.70 65.5,639.40 69.5,638.44 73.5,615.31 77.5,652.53 81.5,663.17 86.5,675.93 90.5,662.14 94.5,662.83 98.5,663.14 102.5,663.20 106.5,648.78 110.5,625.71 114.5,629.49 118.5,609.67 123.5,607.60 127.5,631.47 131.5,626.75 135.5,609.21 139.5,626.01 143.5,625.05 147.5,620.40 151.5,621.36 155.5,637.29 159.5,641.16 164.5,646.60 168.5,631.49 172.5,625.76 176.5,643.32 180.5,655.58 184.5,673.06 188.5,649.57 192.5,668.81 196.5,674.40 201.5,674.69 205.5,674.94 209.5,675.30 213.5,675.15 217.5,666.76 221.5,677.74 225.5,660.16 229.5,668.77 233.5,661.38 238.5,660.79 242.5,671.59 246.5,674.04 250.5,674.87 254.5,664.68 258.5,648.81 262.5,666.88 266.5,663.30 270.5,665.81 275.5,698.10 279.5,711.99 283.5,728.20 287.5,723.67 291.5,724.94 295.5,707.41 299.5,648.40 303.5,683.87 307.5,678.08 311.5,661.02 316.5,663.93 320.5,676.80 324.5,679.08 328.5,698.26 332.5,704.60 336.5,680.49 340.5,676.64 344.5,685.81 348.5,670.83 353.5,669.02 357.5,676.20 361.5,668.29 365.5,673.90 369.5,652.18 373.5,664.04 377.5,664.64 381.5,665.81 385.5,653.18 390.5,645.66 394.5,646.28 398.5,649.27 402.5,647.27 406.5,664.75 410.5,674.52 414.5,675.93 418.5,674.64 422.5,654.97 426.5,671.14 431.5,666.00 435.5,660.96 439.5,663.34 443.5,692.15 447.5,686.20 451.5,699.42 455.5,656.92 459.5,671.29 463.5,651.08 468.5,642.34 472.5,650.17 476.5,646.01 480.5,651.21 484.5,649.05 488.5,643.82 492.5,646.89 496.5,643.14 500.5,642.47 505.5,627.93 509.5,600.34 513.5,599.38 517.5,598.20 521.5,595.44 525.5,595.54 529.5,604.42 533.5,598.11 537.5,605.97 542.5,606.87 546.5,594.42 550.5,592.44 554.5,604.40 558.5,621.37 562.5,618.29 566.5,605.12 570.5,603.96 574.5,575.86 578.5,578.98 583.5,572.50 587.5,580.21 591.5,594.61 595.5,588.71 599.5,595.24 603.5,593.96 607.5,597.56 611.5,601.75 615.5,584.14 620.5,594.70 624.5,588.28 628.5,576.25 632.5,568.92 636.5,612.65 640.5,610.46 644.5,604.34 648.5,602.24 652.5,607.26 657.5,618.81 661.5,638.54 665.5,651.30 669.5,646.71 673.5,638.86 677.5,637.25 681.5,641.80 685.5,648.27 689.5,674.21 693.5,650.64 698.5,641.33 702.5,639.99 706.5,611.85 710.5,611.80 714.5,626.74 718.5,650.11 722.5,647.34 726.5,652.31 730.5,650.89 735.5,641.42 739.5,659.60 743.5,656.78 747.5,658.65 751.5,669.62 755.5,678.40 759.5,686.48 763.5,647.57 767.5,642.13 772.5,633.29 776.5,636.80 780.5,636.04 784.5,634.04 788.5,625.58 792.5,638.48 796.5,652.68 800.5,627.40 804.5,622.38 808.5,637.85 813.5,636.19 817.5,628.40 821.5,638.02 825.5,632.57 829.5,615.49 833.5,590.07 837.5,583.85 841.5,585.03 845.5,578.24 850.5,575.33 854.5,598.85 858.5,594.58 862.5,591.91 866.5,606.04 870.5,606.98 874.5,613.68 878.5,612.87 882.5,596.37 887.5,610.76 891.5,615.62 895.5,624.12 899.5,621.66 903.5,610.21 907.5,626.65 911.5,627.97 915.5,629.36 919.5,653.30 924.5,675.61 928.5,681.51 932.5,663.44 936.5,655.01 940.5,663.49 944.5,654.63 948.5,632.55 952.5,640.63 956.5,642.81 960.5,620.05 965.5,626.62 969.5,616.12 973.5,597.30 977.5,642.32 981.5,649.17 985.5,648.90 989.5,648.71 993.5,658.19 997.5,681.03 1002.5,669.07 1006.5,680.09 1010.5,647.47 1014.5,657.08 1018.5,668.64 1022.5,685.91 1026.5,674.12 1030.5,676.72 1034.5,667.24 1039.5,688.38 1043.5,685.11 1047.5,687.88 1051.5,679.93 1055.5,664.80 1059.5,661.42 1063.5,667.69 1067.5,668.16 1071.5,671.41 1075.5,662.89 1080.5,654.82 1084.5,659.12 1088.5,639.05 1092.5,628.14 1096.5,624.38 1100.5,625.54 1104.5,632.48 1108.5,631.80 1112.5,620.01 1117.5,624.15 1121.5,618.92 1125.5,636.54 1129.5,636.03 1133.5,641.62 1137.5,669.02 1141.5,674.90 1145.5,659.75 1149.5,693.22 1154.5,688.97" fill="none" stroke="#7e57c2" stroke-width="2.9" stroke-linejoin="round" stroke-linecap="round" />
<polyline points="8.5,620.73 12.5,625.80 16.5,628.72 20.5,629.58 24.5,631.70 28.5,634.78 32.5,638.88 36.5,642.51 40.5,647.69 44.5,653.67 49.5,659.25 53.5,661.08 57.5,660.63 61.5,659.79 65.5,658.71 69.5,656.70 73.5,652.91 77.5,653.50 81.5,655.15 86.5,656.16 90.5,655.63 94.5,655.61 98.5,655.02 102.5,654.06 106.5,652.50 110.5,649.81 114.5,648.56 118.5,646.41 123.5,644.14 127.5,643.64 131.5,644.46 135.5,641.36 139.5,638.71 143.5,635.07 147.5,632.09 151.5,629.13 155.5,627.28 159.5,625.71 164.5,625.55 168.5,625.97 172.5,625.70 176.5,628.10 180.5,631.53 184.5,634.50 188.5,636.13 192.5,640.39 196.5,643.85 201.5,647.39 205.5,651.29 209.5,655.14 213.5,657.84 217.5,659.67 221.5,661.90 225.5,663.95 229.5,667.02 233.5,668.31 238.5,668.68 242.5,668.57 246.5,670.32 250.5,670.75 254.5,670.06 258.5,668.21 262.5,667.64 266.5,666.78 270.5,666.11 275.5,668.35 279.5,670.80 283.5,675.66 287.5,679.58 291.5,684.12 295.5,687.45 299.5,685.79 303.5,686.50 307.5,686.72 311.5,686.46 316.5,687.54 320.5,688.25 324.5,689.38 328.5,691.70 332.5,692.16 336.5,689.91 340.5,686.23 344.5,683.52 348.5,679.66 353.5,676.92 357.5,678.90 361.5,677.79 365.5,677.49 369.5,676.86 373.5,676.87 377.5,676.00 381.5,675.05 385.5,671.83 390.5,667.62 394.5,665.18 398.5,663.22 402.5,660.47 406.5,660.03 410.5,660.43 414.5,660.41 418.5,660.86 422.5,659.51 426.5,660.86 431.5,661.01 435.5,660.74 439.5,660.57 443.5,663.35 447.5,666.24 451.5,670.04 455.5,670.59 459.5,672.30 463.5,671.33 468.5,669.03 472.5,667.19 476.5,665.14 480.5,664.87 484.5,663.30 488.5,661.71 492.5,660.71 496.5,659.26 500.5,655.72 505.5,651.55 509.5,644.48 513.5,640.37 517.5,635.14 521.5,631.17 525.5,627.83 529.5,624.56 533.5,621.14 537.5,617.91 542.5,614.89 546.5,611.37 550.5,607.48 554.5,604.71 558.5,603.20 562.5,602.51 566.5,602.86 570.5,603.18 574.5,601.59 578.5,600.41 583.5,598.77 587.5,597.04 591.5,596.79 595.5,595.55 599.5,594.72 603.5,594.69 607.5,595.06 611.5,594.87 615.5,592.21 620.5,590.52 624.5,589.32 628.5,587.34 632.5,586.84 636.5,589.25 640.5,591.96 644.5,593.68 648.5,594.23 652.5,595.55 657.5,597.24 661.5,600.42 665.5,604.26 669.5,607.47 673.5,611.38 677.5,614.42 681.5,618.24 685.5,623.39 689.5,630.91 693.5,633.62 698.5,635.83 702.5,638.37 706.5,639.06 710.5,639.38 714.5,639.95 718.5,640.78 722.5,640.49 726.5,640.89 730.5,641.75 735.5,642.05 739.5,643.32 743.5,643.93 747.5,642.82 751.5,644.17 755.5,646.82 759.5,650.14 763.5,652.69 767.5,654.86 772.5,655.33 776.5,654.38 780.5,653.57 784.5,652.26 788.5,650.46 792.5,650.25 796.5,649.75 800.5,647.65 804.5,645.06 808.5,642.79 813.5,639.78 817.5,635.63 821.5,634.95 825.5,634.27 829.5,632.99 833.5,629.66 837.5,625.93 841.5,622.43 845.5,619.05 850.5,614.54 854.5,610.69 858.5,608.35 862.5,606.17 866.5,603.90 870.5,601.81 874.5,600.76 878.5,598.96 882.5,596.38 887.5,596.04 891.5,597.86 895.5,600.74 899.5,603.36 903.5,605.64 907.5,609.31 911.5,611.39 915.5,613.87 919.5,618.26 924.5,623.22 928.5,628.55 932.5,632.10 936.5,635.11 940.5,639.91 944.5,643.04 948.5,644.25 952.5,645.43 956.5,646.94 960.5,647.64 965.5,647.64 969.5,646.79 973.5,644.50 977.5,643.72 981.5,641.83 985.5,639.50 989.5,638.45 993.5,638.68 997.5,639.93 1002.5,640.96 1006.5,644.36 1010.5,644.85 1014.5,645.87 1018.5,649.34 1022.5,653.57 1026.5,657.72 1030.5,663.39 1034.5,665.17 1039.5,667.97 1043.5,670.56 1047.5,673.35 1051.5,674.91 1055.5,673.75 1059.5,673.20 1063.5,672.31 1067.5,673.79 1071.5,674.82 1075.5,674.41 1080.5,672.18 1084.5,671.11 1088.5,668.42 1092.5,665.63 1096.5,661.06 1100.5,656.80 1104.5,652.85 1108.5,649.41 1112.5,646.21 1117.5,643.55 1121.5,640.06 1125.5,637.80 1129.5,635.28 1133.5,633.76 1137.5,634.77 1141.5,635.90 1145.5,637.38 1149.5,642.03 1154.5,646.64" fill="none" stroke="#fdd835" stroke-width="1.1" stroke-linejoin="round" stroke-linecap="round" />
</g>
<line x1="10" x2="1282" y1="593.5" y2="593.5" stroke="#787b86" stroke-opacity="1" stroke-width="1" stroke-dasharray="5,6" shape-rendering="crispEdges" clip-path="url(#cr)"/>
<line x1="10" x2="1282" y1="652.5" y2="652.5" stroke="#787b86" stroke-opacity="0.5" stroke-width="1" stroke-dasharray="5,6" shape-rendering="crispEdges" clip-path="url(#cr)"/>
<line x1="10" x2="1282" y1="711.5" y2="711.5" stroke="#787b86" stroke-opacity="1" stroke-width="1" stroke-dasharray="5,6" shape-rendering="crispEdges" clip-path="url(#cr)"/>
<clipPath id="ca1"><rect x="1283" y="28" width="76" height="531"/></clipPath>
<clipPath id="ca2"><rect x="1283" y="560" width="76" height="178"/></clipPath>
<g clip-path="url(#ca1)">
<text x="1291.7" y="558.5" font-family="Liberation Sans, sans-serif" font-size="12.3" fill="#131722" textLength="52.8" lengthAdjust="spacingAndGlyphs" stroke="#131722" stroke-width="0.22">72,000.00</text>
<text x="1291.7" y="520.3" font-family="Liberation Sans, sans-serif" font-size="12.3" fill="#131722" textLength="52.8" lengthAdjust="spacingAndGlyphs" stroke="#131722" stroke-width="0.22">76,000.00</text>
<text x="1291.7" y="482.1" font-family="Liberation Sans, sans-serif" font-size="12.3" fill="#131722" textLength="52.8" lengthAdjust="spacingAndGlyphs" stroke="#131722" stroke-width="0.22">80,000.00</text>
<text x="1291.7" y="443.8" font-family="Liberation Sans, sans-serif" font-size="12.3" fill="#131722" textLength="52.8" lengthAdjust="spacingAndGlyphs" stroke="#131722" stroke-width="0.22">84,000.00</text>
<text x="1291.7" y="405.6" font-family="Liberation Sans, sans-serif" font-size="12.3" fill="#131722" textLength="52.8" lengthAdjust="spacingAndGlyphs" stroke="#131722" stroke-width="0.22">88,000.00</text>
<text x="1291.7" y="367.3" font-family="Liberation Sans, sans-serif" font-size="12.3" fill="#131722" textLength="52.8" lengthAdjust="spacingAndGlyphs" stroke="#131722" stroke-width="0.22">92,000.00</text>
<text x="1291.7" y="329.1" font-family="Liberation Sans, sans-serif" font-size="12.3" fill="#131722" textLength="52.8" lengthAdjust="spacingAndGlyphs" stroke="#131722" stroke-width="0.22">96,000.00</text>
<text x="1291.7" y="290.9" font-family="Liberation Sans, sans-serif" font-size="12.3" fill="#131722" textLength="59.1" lengthAdjust="spacingAndGlyphs" stroke="#131722" stroke-width="0.22">100,000.00</text>
<text x="1291.7" y="252.6" font-family="Liberation Sans, sans-serif" font-size="12.3" fill="#131722" textLength="59.1" lengthAdjust="spacingAndGlyphs" stroke="#131722" stroke-width="0.22">104,000.00</text>
<text x="1291.7" y="214.4" font-family="Liberation Sans, sans-serif" font-size="12.3" fill="#131722" textLength="59.1" lengthAdjust="spacingAndGlyphs" stroke="#131722" stroke-width="0.22">108,000.00</text>
<text x="1291.7" y="176.1" font-family="Liberation Sans, sans-serif" font-size="12.3" fill="#131722" textLength="59.1" lengthAdjust="spacingAndGlyphs" stroke="#131722" stroke-width="0.22">112,000.00</text>
<text x="1291.7" y="137.9" font-family="Liberation Sans, sans-serif" font-size="12.3" fill="#131722" textLength="59.1" lengthAdjust="spacingAndGlyphs" stroke="#131722" stroke-width="0.22">116,000.00</text>
<text x="1291.7" y="99.7" font-family="Liberation Sans, sans-serif" font-size="12.3" fill="#131722" textLength="59.1" lengthAdjust="spacingAndGlyphs" stroke="#131722" stroke-width="0.22">120,000.00</text>
<text x="1291.7" y="61.4" font-family="Liberation Sans, sans-serif" font-size="12.3" fill="#131722" textLength="59.1" lengthAdjust="spacingAndGlyphs" stroke="#131722" stroke-width="0.22">124,000.00</text>
</g><g clip-path="url(#ca2)">
<text x="1291.7" y="567.8" font-family="Liberation Sans, sans-serif" font-size="12.3" fill="#131722" textLength="29.6" lengthAdjust="spacingAndGlyphs" stroke="#131722" stroke-width="0.22">80.00</text>
<text x="1291.7" y="626.8" font-family="Liberation Sans, sans-serif" font-size="12.3" fill="#131722" textLength="29.6" lengthAdjust="spacingAndGlyphs" stroke="#131722" stroke-width="0.22">60.00</text>
<text x="1291.7" y="685.8" font-family="Liberation Sans, sans-serif" font-size="12.3" fill="#131722" textLength="29.6" lengthAdjust="spacingAndGlyphs" stroke="#131722" stroke-width="0.22">40.00</text>
</g>
<rect x="1283" y="28" width="77" height="33" fill="#fff"/>
<rect x="1283" y="61" width="73" height="2" fill="#0000ff" shape-rendering="crispEdges"/>
<rect x="1286.2" y="31.4" width="69.6" height="25.8" rx="4" ry="4" fill="#fff" stroke="#e0e3eb" stroke-width="1"/>
<text x="1295.4" y="48.7" font-family="Liberation Sans, sans-serif" font-size="12" fill="#131722" textLength="26.3" lengthAdjust="spacingAndGlyphs" stroke="#131722" stroke-width="0.22">USDT</text>
<path d="M1283,112 H1353.8 a2,2 0 0 1 2,2 V127 a2,2 0 0 1 -2,2 H1283 Z" fill="#0000ff"/>
<text x="1291.7" y="124.3" font-family="Liberation Sans, sans-serif" font-size="12" fill="#fff" textLength="59.1" lengthAdjust="spacingAndGlyphs" stroke="#fff" stroke-width="0.45">117,500.00</text>
<path d="M1283,136 H1353.8 a2,2 0 0 1 2,2 V151 a2,2 0 0 1 -2,2 H1283 Z" fill="#f23645"/>
<text x="1291.7" y="148.3" font-family="Liberation Sans, sans-serif" font-size="12" fill="#fff" textLength="59.1" lengthAdjust="spacingAndGlyphs" stroke="#fff" stroke-width="0.45">114,031.47</text>
<path d="M1282,136 H1233.8 a2,2 0 0 0 -2,2 V151 a2,2 0 0 0 2,2 H1282 Z" fill="#f23645"/>
<text x="1236.6" y="148.3" font-family="Liberation Sans, sans-serif" font-size="12" fill="#fff" textLength="41.8" lengthAdjust="spacingAndGlyphs" stroke="#fff" stroke-width="0.45">SMA:MA</text>
<path d="M1283,153 H1353.8 a2,2 0 0 1 2,2 V168 a2,2 0 0 1 -2,2 H1283 Z" fill="#2962ff"/>
<text x="1291.7" y="165.3" font-family="Liberation Sans, sans-serif" font-size="12" fill="#fff" textLength="59.1" lengthAdjust="spacingAndGlyphs" stroke="#fff" stroke-width="0.45">113,217.96</text>
<path d="M1282,153 H1253.2 a2,2 0 0 0 -2,2 V168 a2,2 0 0 0 2,2 H1282 Z" fill="#2962ff"/>
<text x="1256.0" y="165.3" font-family="Liberation Sans, sans-serif" font-size="12" fill="#fff" textLength="22.5" lengthAdjust="spacingAndGlyphs" stroke="#fff" stroke-width="0.45">EMA</text>
<path d="M1283,190 H1353.8 a2,2 0 0 1 2,2 V235 H1283 Z" fill="#26a69a"/>
<text x="1291.7" y="202.3" font-family="Liberation Sans, sans-serif" font-size="12" fill="#fff" textLength="59.1" lengthAdjust="spacingAndGlyphs" stroke="#fff" stroke-width="0.45">109,379.31</text>
<text x="1291.7" y="215.4" font-family="Liberation Sans, sans-serif" font-size="12" fill="#fff" textLength="42.3" lengthAdjust="spacingAndGlyphs" stroke="#fff" stroke-width="0.45">+12.42%</text>
<text x="1291.7" y="229.6" font-family="Liberation Sans, sans-serif" font-size="12" fill="#fff" textLength="45.8" lengthAdjust="spacingAndGlyphs" fill-opacity="0.8" stroke="#fff" stroke-width="0.3" stroke-opacity="0.8">07:06:45</text>
<path d="M1282,190 H1227 a2,2 0 0 0 -2,2 V205 a2,2 0 0 0 2,2 H1282 Z" fill="#26a69a"/>
<text x="1229.8" y="202.3" font-family="Liberation Sans, sans-serif" font-size="12" fill="#fff" textLength="48.1" lengthAdjust="spacingAndGlyphs" stroke="#fff" stroke-width="0.45">BTCUSDT</text>
<path d="M1283,235 H1353.8 a2,2 0 0 1 2,2 V250 a2,2 0 0 1 -2,2 H1283 Z" fill="#0000ff"/>
<text x="1291.7" y="247.3" font-family="Liberation Sans, sans-serif" font-size="12" fill="#fff" textLength="59.1" lengthAdjust="spacingAndGlyphs" stroke="#fff" stroke-width="0.45">107,000.00</text>
<path d="M1283,280 H1353.8 a2,2 0 0 1 2,2 V295 a2,2 0 0 1 -2,2 H1283 Z" fill="#0000ff"/>
<text x="1291.7" y="292.3" font-family="Liberation Sans, sans-serif" font-size="12" fill="#fff" textLength="59.1" lengthAdjust="spacingAndGlyphs" stroke="#fff" stroke-width="0.45">100,000.00</text>
<path d="M1283,530 H1347.5 a2,2 0 0 1 2,2 V545 a2,2 0 0 1 -2,2 H1283 Z" fill="#0000ff"/>
<text x="1291.7" y="542.3" font-family="Liberation Sans, sans-serif" font-size="12" fill="#fff" textLength="52.8" lengthAdjust="spacingAndGlyphs" stroke="#fff" stroke-width="0.45">73,777.00</text>
<path d="M1283,639 H1324.3 a2,2 0 0 1 2,2 V654 a2,2 0 0 1 -2,2 H1283 Z" fill="#fdd835"/>
<text x="1291.7" y="651.3" font-family="Liberation Sans, sans-serif" font-size="12" fill="#131722" textLength="29.6" lengthAdjust="spacingAndGlyphs" stroke="#131722" stroke-width="0.22">51.78</text>
<path d="M1282,639 H1205.2 a2,2 0 0 0 -2,2 V654 a2,2 0 0 0 2,2 H1282 Z" fill="#fdd835"/>
<text x="1208.0" y="651.3" font-family="Liberation Sans, sans-serif" font-size="12" fill="#131722" textLength="69.5" lengthAdjust="spacingAndGlyphs" stroke="#131722" stroke-width="0.22">RSI-based MA</text>
<path d="M1283,681 H1324.3 a2,2 0 0 1 2,2 V696 a2,2 0 0 1 -2,2 H1283 Z" fill="#7e57c2"/>
<text x="1291.7" y="693.3" font-family="Liberation Sans, sans-serif" font-size="12" fill="#fff" textLength="29.6" lengthAdjust="spacingAndGlyphs" stroke="#fff" stroke-width="0.45">37.43</text>
<path d="M1282,681 H1259 a2,2 0 0 0 -2,2 V696 a2,2 0 0 0 2,2 H1282 Z" fill="#7e57c2"/>
<text x="1261.8" y="693.3" font-family="Liberation Sans, sans-serif" font-size="12" fill="#fff" textLength="15.5" lengthAdjust="spacingAndGlyphs" stroke="#fff" stroke-width="0.45">RSI</text>
<g>
<circle cx="1154.4" cy="546.3" r="11.4" fill="#fff"/>
<circle cx="1154.4" cy="546.3" r="9.7" fill="#fff" stroke="#9c27b0" stroke-width="1.45"/>
<path d="M1157.0,541.2 L1150.2,546.5 L1154.3,547.05 L1151.0,551.9 L1158.8,545.9 L1154.6,545.3 Z" fill="#9c27b0" stroke="#9c27b0" stroke-width="0.4" stroke-linejoin="round"/>
<circle cx="1161.4" cy="539.5" r="4.2" fill="#fff"/>
<circle cx="1161.4" cy="539.5" r="2.55" fill="#f23645"/>
</g>
<text x="53.5" y="756.3" font-family="Liberation Sans, sans-serif" font-size="12" fill="#131722" font-weight="bold" textLength="27.1" lengthAdjust="spacingAndGlyphs" text-anchor="middle">2025</text>
<text x="180.5" y="756.3" font-family="Liberation Sans, sans-serif" font-size="12" fill="#131722" textLength="19" lengthAdjust="spacingAndGlyphs" text-anchor="middle" stroke="#131722" stroke-width="0.22">Feb</text>
<text x="295.5" y="756.3" font-family="Liberation Sans, sans-serif" font-size="12" fill="#131722" textLength="19.7" lengthAdjust="spacingAndGlyphs" text-anchor="middle" stroke="#131722" stroke-width="0.22">Mar</text>
<text x="422.5" y="756.3" font-family="Liberation Sans, sans-serif" font-size="12" fill="#131722" textLength="18.5" lengthAdjust="spacingAndGlyphs" text-anchor="middle" stroke="#131722" stroke-width="0.22">Apr</text>
<text x="546.5" y="756.3" font-family="Liberation Sans, sans-serif" font-size="12" fill="#131722" textLength="21.4" lengthAdjust="spacingAndGlyphs" text-anchor="middle" stroke="#131722" stroke-width="0.22">May</text>
<text x="673.5" y="756.3" font-family="Liberation Sans, sans-serif" font-size="12" fill="#131722" textLength="18.5" lengthAdjust="spacingAndGlyphs" text-anchor="middle" stroke="#131722" stroke-width="0.22">Jun</text>
<text x="796.5" y="756.3" font-family="Liberation Sans, sans-serif" font-size="12" fill="#131722" textLength="15" lengthAdjust="spacingAndGlyphs" text-anchor="middle" stroke="#131722" stroke-width="0.22">Jul</text>
<text x="924.5" y="756.3" font-family="Liberation Sans, sans-serif" font-size="12" fill="#131722" textLength="19.6" lengthAdjust="spacingAndGlyphs" text-anchor="middle" stroke="#131722" stroke-width="0.22">Aug</text>
<text x="1051.5" y="756.3" font-family="Liberation Sans, sans-serif" font-size="12" fill="#131722" textLength="19" lengthAdjust="spacingAndGlyphs" text-anchor="middle" stroke="#131722" stroke-width="0.22">Sep</text>
<text x="1174.5" y="756.3" font-family="Liberation Sans, sans-serif" font-size="12" fill="#131722" textLength="18.4" lengthAdjust="spacingAndGlyphs" text-anchor="middle" stroke="#131722" stroke-width="0.22">Oct</text>
<text x="18.1" y="45.6" font-family="Liberation Sans, sans-serif" font-size="12" fill="#131722" textLength="36.5" lengthAdjust="spacingAndGlyphs" stroke="#131722" stroke-width="0.22">Bitcoin</text>
<text x="59.9" y="45.6" font-family="Liberation Sans, sans-serif" font-size="12" fill="#131722" textLength="3.8" lengthAdjust="spacingAndGlyphs" stroke="#131722" stroke-width="0.22">/</text>
<text x="69.2" y="45.6" font-family="Liberation Sans, sans-serif" font-size="12" fill="#131722" textLength="47.5" lengthAdjust="spacingAndGlyphs" stroke="#131722" stroke-width="0.22">TetherUS</text>
<text x="128.4" y="45.6" font-family="Liberation Sans, sans-serif" font-size="12" fill="#131722" textLength="13.1" lengthAdjust="spacingAndGlyphs" stroke="#131722" stroke-width="0.22">1D</text>
<text x="153.9" y="45.6" font-family="Liberation Sans, sans-serif" font-size="12" fill="#131722" textLength="41.6" lengthAdjust="spacingAndGlyphs" stroke="#131722" stroke-width="0.22">Binance</text>
<circle cx="121.4" cy="41.6" r="1.05" fill="#131722"/><circle cx="148.4" cy="41.6" r="1.05" fill="#131722"/>
<text x="203.8" y="45.6" font-family="Liberation Sans, sans-serif" font-size="12" fill="#131722" textLength="8.2" lengthAdjust="spacingAndGlyphs" stroke="#131722" stroke-width="0.22">O</text>
<text x="212.3" y="45.6" font-family="Liberation Sans, sans-serif" font-size="12" fill="#26a69a" textLength="58.2" lengthAdjust="spacingAndGlyphs" stroke="#26a69a" stroke-width="0.22">108,994.49</text>
<text x="278" y="45.6" font-family="Liberation Sans, sans-serif" font-size="12" fill="#131722" textLength="7.6" lengthAdjust="spacingAndGlyphs" stroke="#131722" stroke-width="0.22">H</text>
<text x="286" y="45.6" font-family="Liberation Sans, sans-serif" font-size="12" fill="#26a69a" textLength="58.5" lengthAdjust="spacingAndGlyphs" stroke="#26a69a" stroke-width="0.22">109,798.84</text>
<text x="352.5" y="45.6" font-family="Liberation Sans, sans-serif" font-size="12" fill="#131722" textLength="5.8" lengthAdjust="spacingAndGlyphs" stroke="#131722" stroke-width="0.22">L</text>
<text x="358.7" y="45.6" font-family="Liberation Sans, sans-serif" font-size="12" fill="#26a69a" textLength="58" lengthAdjust="spacingAndGlyphs" stroke="#26a69a" stroke-width="0.22">108,620.07</text>
<text x="424.5" y="45.6" font-family="Liberation Sans, sans-serif" font-size="12" fill="#131722" textLength="7.2" lengthAdjust="spacingAndGlyphs" stroke="#131722" stroke-width="0.22">C</text>
<text x="432.3" y="45.6" font-family="Liberation Sans, sans-serif" font-size="12" fill="#26a69a" textLength="57.7" lengthAdjust="spacingAndGlyphs" stroke="#26a69a" stroke-width="0.22">109,379.31</text>
<text x="498" y="45.6" font-family="Liberation Sans, sans-serif" font-size="12" fill="#26a69a" textLength="42" lengthAdjust="spacingAndGlyphs" stroke="#26a69a" stroke-width="0.22">+384.82</text>
<text x="544.6" y="45.6" font-family="Liberation Sans, sans-serif" font-size="12" fill="#26a69a" textLength="44" lengthAdjust="spacingAndGlyphs" stroke="#26a69a" stroke-width="0.22">(+0.35%)</text>
<text x="18.1" y="63" font-family="Liberation Sans, sans-serif" font-size="12" fill="#131722" textLength="21.9" lengthAdjust="spacingAndGlyphs" stroke="#131722" stroke-width="0.22">EMA</text>
<text x="44.7" y="63" font-family="Liberation Sans, sans-serif" font-size="12" fill="#131722" textLength="19.4" lengthAdjust="spacingAndGlyphs" stroke="#131722" stroke-width="0.22">(20,</text>
<text x="68.5" y="63" font-family="Liberation Sans, sans-serif" font-size="12" fill="#131722" textLength="31.1" lengthAdjust="spacingAndGlyphs" stroke="#131722" stroke-width="0.22">close)</text>
<text x="108.4" y="63" font-family="Liberation Sans, sans-serif" font-size="12" fill="#2962ff" textLength="57.9" lengthAdjust="spacingAndGlyphs" stroke="#2962ff" stroke-width="0.22">113,217.96</text>
<text x="18.1" y="79.7" font-family="Liberation Sans, sans-serif" font-size="12" fill="#131722" textLength="21.5" lengthAdjust="spacingAndGlyphs" stroke="#131722" stroke-width="0.22">SMA</text>
<text x="44.1" y="79.7" font-family="Liberation Sans, sans-serif" font-size="12" fill="#131722" textLength="20" lengthAdjust="spacingAndGlyphs" stroke="#131722" stroke-width="0.22">(50,</text>
<text x="68.1" y="79.7" font-family="Liberation Sans, sans-serif" font-size="12" fill="#131722" textLength="31.1" lengthAdjust="spacingAndGlyphs" stroke="#131722" stroke-width="0.22">close)</text>
<text x="107.9" y="79.7" font-family="Liberation Sans, sans-serif" font-size="12" fill="#f23645" textLength="57.7" lengthAdjust="spacingAndGlyphs" stroke="#f23645" stroke-width="0.22">114,031.47</text>
<text x="18.2" y="579.2" font-family="Liberation Sans, sans-serif" font-size="12" fill="#131722" textLength="15.3" lengthAdjust="spacingAndGlyphs" stroke="#131722" stroke-width="0.22">RSI</text>
<text x="38.5" y="579.2" font-family="Liberation Sans, sans-serif" font-size="12" fill="#131722" textLength="19.4" lengthAdjust="spacingAndGlyphs" stroke="#131722" stroke-width="0.22">(14,</text>
<text x="62.6" y="579.2" font-family="Liberation Sans, sans-serif" font-size="12" fill="#131722" textLength="31" lengthAdjust="spacingAndGlyphs" stroke="#131722" stroke-width="0.22">close)</text>
<text x="101.8" y="579.2" font-family="Liberation Sans, sans-serif" font-size="12" fill="#7e57c2" textLength="29.4" lengthAdjust="spacingAndGlyphs" stroke="#7e57c2" stroke-width="0.22">37.43</text>
<text x="139" y="579.2" font-family="Liberation Sans, sans-serif" font-size="12" fill="#fdd835" textLength="29.4" lengthAdjust="spacingAndGlyphs" stroke="#fdd835" stroke-width="0.22">51.78</text>
<text x="10.5" y="18.6" font-family="Liberation Sans, sans-serif" font-size="13" fill="#1c1c1c" textLength="59.3" lengthAdjust="spacingAndGlyphs" stroke="#1c1c1c" stroke-width="0.22">ranadagger</text>
<text x="74.2" y="18.6" font-family="Liberation Sans, sans-serif" font-size="13" fill="#1c1c1c" textLength="39.7" lengthAdjust="spacingAndGlyphs" stroke="#1c1c1c" stroke-width="0.22">created</text>
<text x="119" y="18.6" font-family="Liberation Sans, sans-serif" font-size="13" fill="#1c1c1c" textLength="22.6" lengthAdjust="spacingAndGlyphs" stroke="#1c1c1c" stroke-width="0.22">with</text>
<text x="146.7" y="18.6" font-family="Liberation Sans, sans-serif" font-size="13" fill="#1c1c1c" textLength="93.4" lengthAdjust="spacingAndGlyphs" stroke="#1c1c1c" stroke-width="0.22">TradingView.com,</text>
<text x="244.5" y="18.6" font-family="Liberation Sans, sans-serif" font-size="13" fill="#1c1c1c" textLength="18.6" lengthAdjust="spacingAndGlyphs" stroke="#1c1c1c" stroke-width="0.22">Sep</text>
<text x="267.9" y="18.6" font-family="Liberation Sans, sans-serif" font-size="13" fill="#1c1c1c" textLength="16" lengthAdjust="spacingAndGlyphs" stroke="#1c1c1c" stroke-width="0.22">26,</text>
<text x="288" y="18.6" font-family="Liberation Sans, sans-serif" font-size="13" fill="#1c1c1c" textLength="24.4" lengthAdjust="spacingAndGlyphs" stroke="#1c1c1c" stroke-width="0.22">2025</text>
<text x="317.5" y="18.6" font-family="Liberation Sans, sans-serif" font-size="13" fill="#1c1c1c" textLength="27.8" lengthAdjust="spacingAndGlyphs" stroke="#1c1c1c" stroke-width="0.22">16:53</text>
<text x="350.4" y="18.6" font-family="Liberation Sans, sans-serif" font-size="13" fill="#1c1c1c" textLength="20.7" lengthAdjust="spacingAndGlyphs" stroke="#1c1c1c" stroke-width="0.22">UTC</text>
<g transform="translate(12,784.5) scale(0.8333)" fill="#101010"><path d="M14 22H7V11H0V4h14v18zM28 22h-8l7.5-18h8L28 22z"/><circle cx="20" cy="8" r="4"/></g>
<text x="49.3" y="802.8" font-family="Liberation Sans, sans-serif" font-size="20.6" fill="#101010" font-weight="bold" textLength="120.5" lengthAdjust="spacingAndGlyphs">TradingView</text>
</svg>
</body></html>
